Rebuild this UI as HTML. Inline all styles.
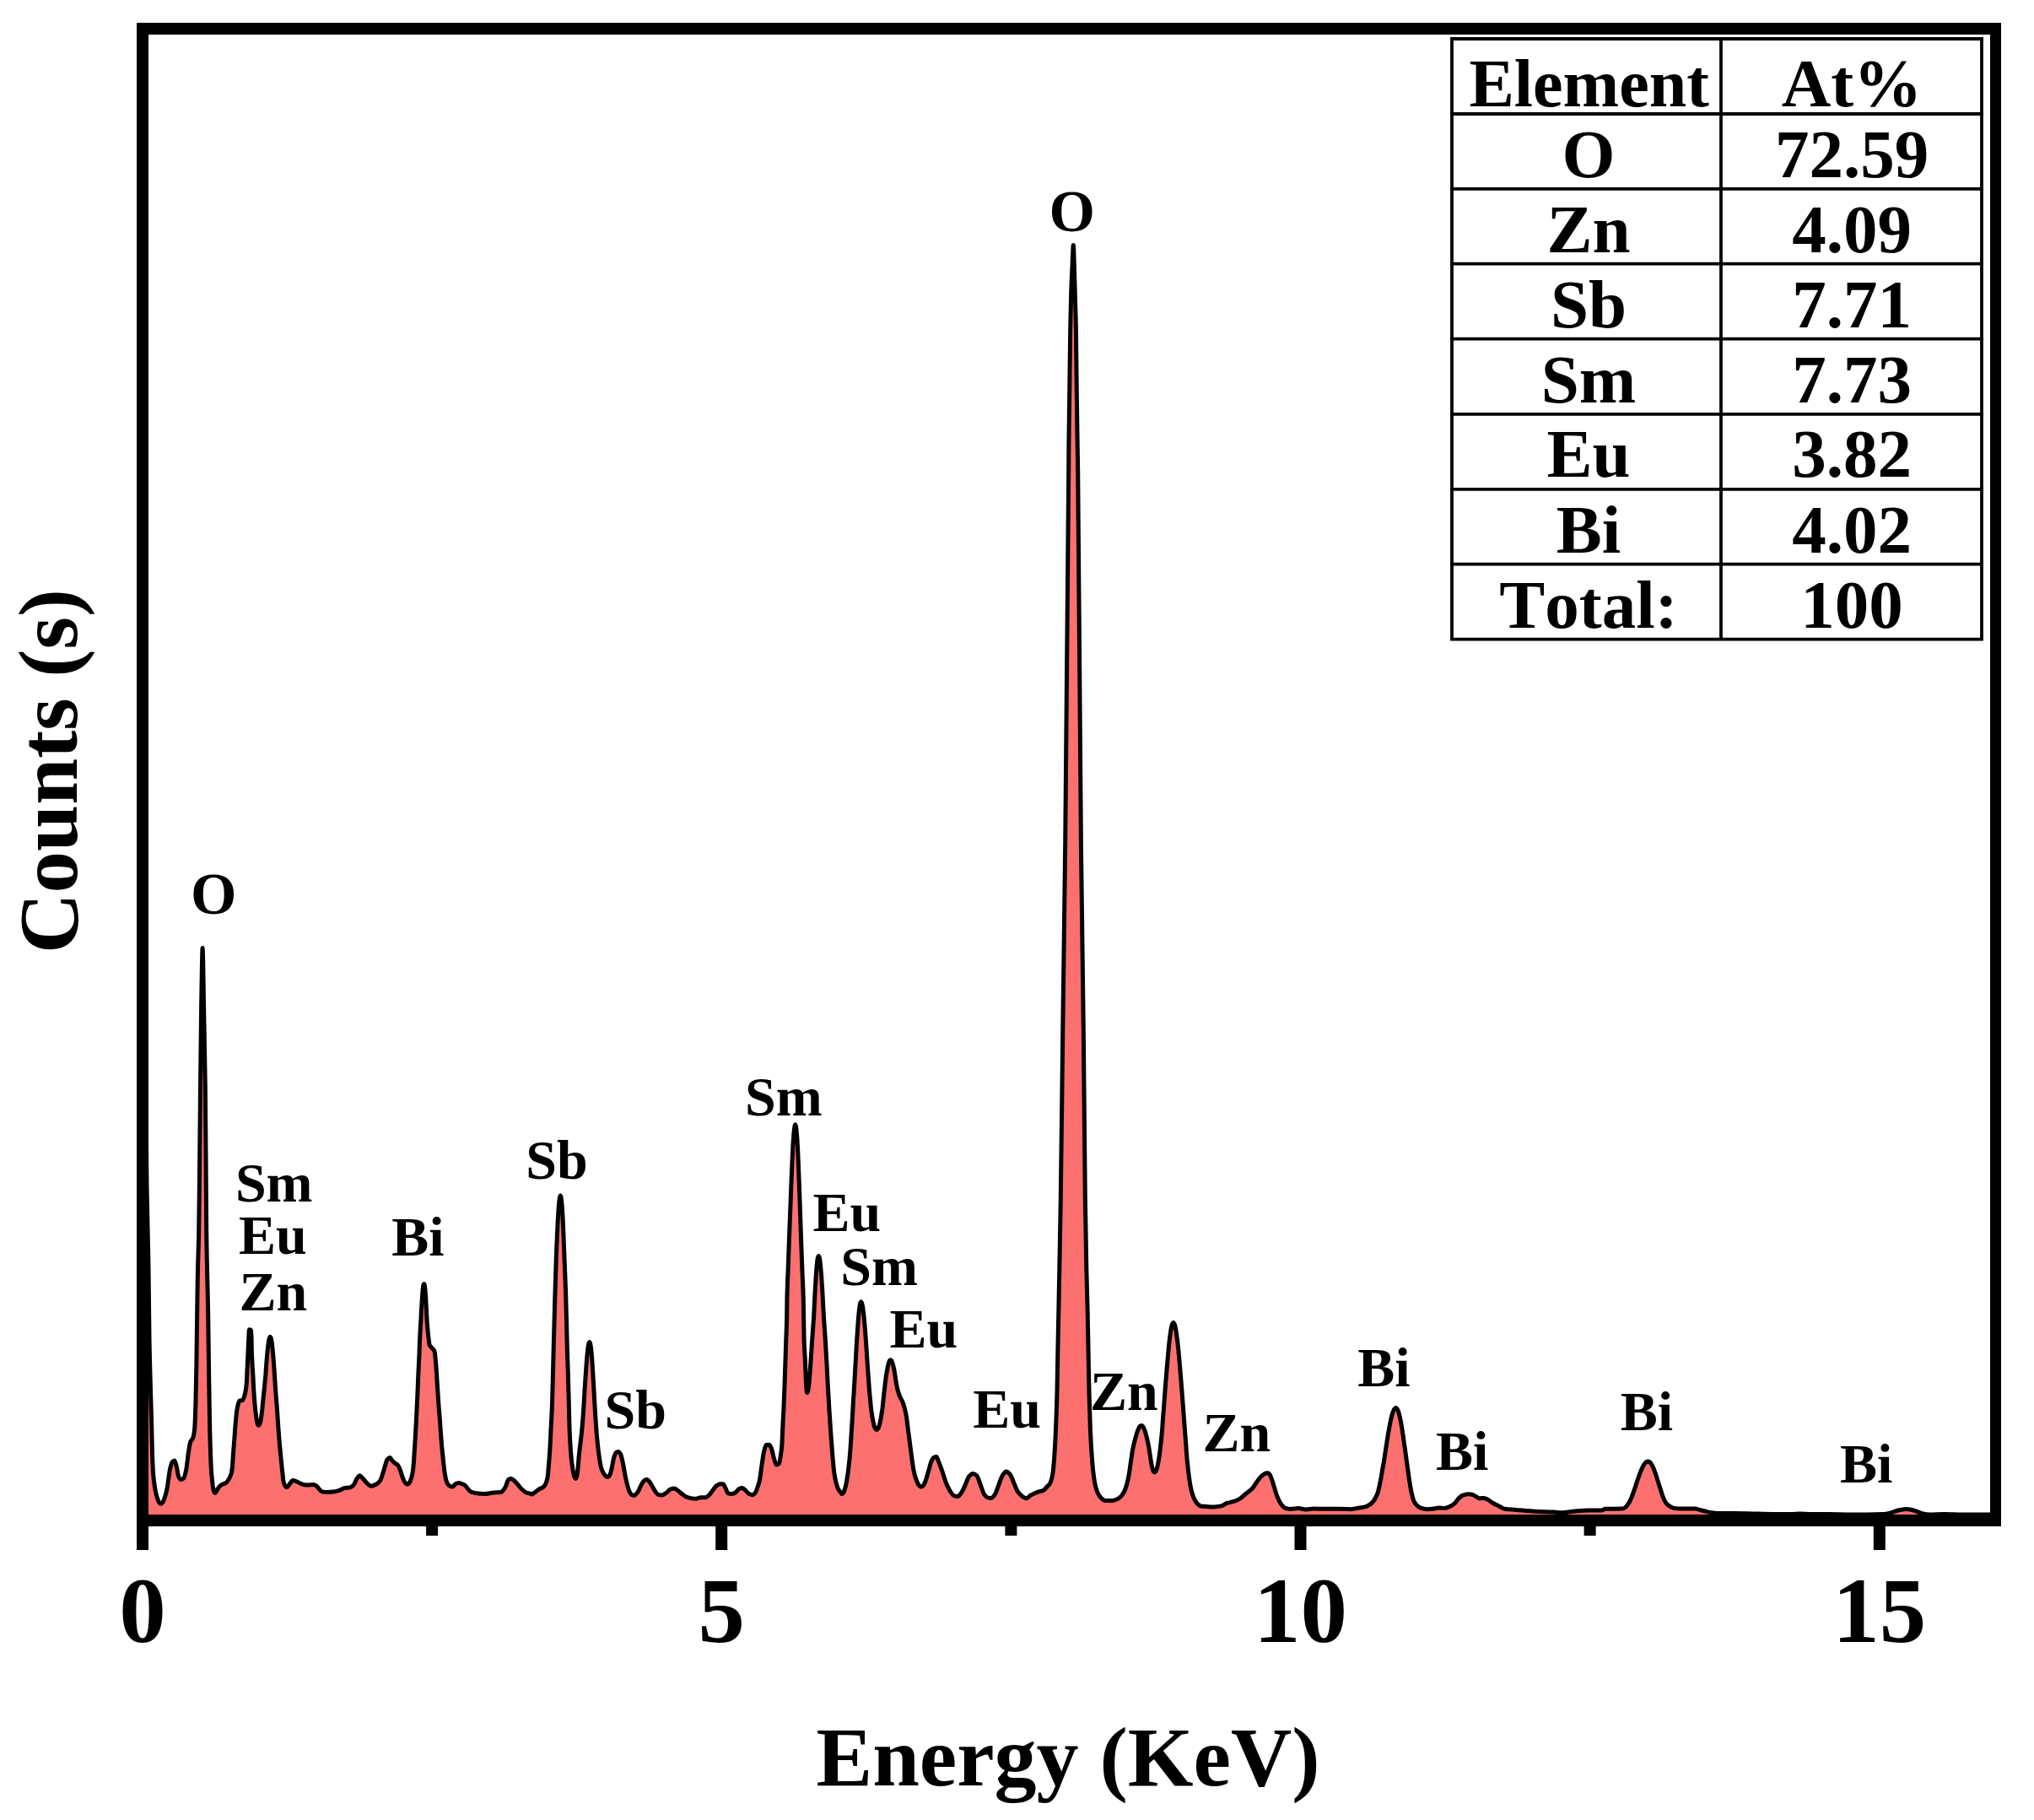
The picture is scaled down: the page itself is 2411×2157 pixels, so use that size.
<!DOCTYPE html>
<html><head><meta charset="utf-8"><title>EDS spectrum</title>
<style>html,body{margin:0;padding:0;background:#fff}svg{display:block}</style></head>
<body>
<svg width="2411" height="2157" viewBox="0 0 2411 2157">
<rect width="2411" height="2157" fill="#fff"/>
<path d="M170.0,1000.0C170.67,1065.7 171.33,1132.3 172.0,1200.0C172.67,1267.7 173.33,1363.0 174.0,1406.0C174.67,1449.0 175.33,1458.1 176.0,1500.0C176.33,1520.9 176.67,1567.2 177.0,1586.0C177.57,1617.9 178.13,1633.0 178.7,1654.0C179.03,1666.4 179.37,1676.2 179.7,1689.0C179.97,1699.3 180.23,1715.5 180.5,1723.0C180.93,1735.1 181.37,1744.1 181.8,1749.0C182.44,1756.3 183.08,1759.9 183.7,1763.7C184.03,1765.6 184.33,1766.9 184.6,1768.3C184.96,1769.8 185.28,1771.2 185.6,1772.5C185.93,1773.8 186.26,1774.9 186.6,1775.9C186.93,1777.0 187.26,1777.9 187.6,1778.7C187.96,1779.5 188.33,1780.4 188.7,1780.8C189.31,1781.5 189.94,1782.2 190.6,1782.2C191.25,1782.2 191.93,1781.5 192.6,1780.8C193.02,1780.4 193.41,1779.5 193.8,1778.7C194.18,1777.9 194.55,1777.0 194.9,1775.9C195.28,1774.9 195.64,1773.8 196.0,1772.5C196.35,1771.2 196.71,1769.8 197.1,1768.3C197.40,1766.9 197.73,1765.5 198.1,1763.7C199.34,1757.2 200.61,1744.6 201.9,1739.6C202.64,1736.6 203.39,1733.6 204.1,1732.8C205.05,1731.8 205.96,1731.0 206.9,1731.0C207.62,1731.0 208.37,1734.6 209.1,1737.3C209.96,1740.3 210.79,1747.9 211.6,1749.8C212.52,1751.8 213.43,1753.6 214.3,1753.6C215.47,1753.6 216.60,1753.0 217.7,1752.0C218.71,1751.2 219.69,1746.5 220.7,1741.9C221.58,1737.6 222.49,1727.2 223.4,1721.5C224.15,1716.7 224.90,1710.9 225.7,1709.0C226.64,1706.6 227.62,1706.9 228.6,1704.5C229.28,1702.9 229.96,1700.2 230.6,1694.3C231.09,1690.4 231.54,1675.8 232.0,1660.4C232.30,1650.1 232.60,1633.0 232.9,1615.1C233.35,1588.3 233.81,1535.7 234.3,1513.2C234.74,1489.3 235.22,1485.9 235.7,1460.0C236.00,1443.8 236.30,1408.5 236.6,1380.0C236.90,1351.5 237.20,1316.0 237.5,1288.0C237.87,1253.8 238.23,1219.7 238.6,1194.0C238.90,1173.0 239.20,1151.0 239.5,1140.0C239.70,1132.6 239.90,1123.5 240.1,1123.5C240.30,1123.5 240.50,1132.6 240.7,1140.0C241.00,1151.0 241.30,1176.7 241.6,1194.0C242.17,1226.7 242.73,1243.8 243.3,1288.0C243.57,1308.8 243.83,1347.0 244.1,1380.0C244.30,1404.8 244.50,1444.4 244.7,1460.0C245.37,1512.4 246.04,1517.7 246.7,1558.5C247.01,1576.9 247.31,1606.2 247.6,1626.4C247.99,1651.7 248.37,1679.6 248.7,1694.3C249.34,1717.5 249.93,1734.8 250.5,1743.9C250.71,1746.7 250.89,1748.3 251.1,1750.3C251.27,1752.4 251.47,1754.3 251.7,1756.0C251.86,1757.8 252.05,1759.4 252.2,1760.8C252.45,1762.3 252.65,1763.6 252.9,1764.7C253.07,1765.8 253.29,1767.0 253.5,1767.6C253.88,1768.5 254.26,1769.5 254.6,1769.5C256.29,1769.5 257.95,1763.9 259.6,1762.2C260.75,1761.1 261.88,1760.1 263.0,1759.5C264.52,1758.7 266.03,1758.6 267.5,1757.7C268.06,1757.4 268.58,1756.8 269.1,1756.2C270.73,1754.2 272.37,1752.3 274.0,1747.1C274.45,1745.7 274.90,1742.8 275.4,1738.9C275.73,1735.6 276.12,1727.6 276.5,1722.4C276.93,1716.6 277.37,1711.6 277.8,1705.9C278.20,1700.6 278.60,1694.2 279.0,1689.5C279.53,1683.2 280.07,1676.7 280.6,1673.0C281.13,1669.3 281.67,1666.6 282.2,1664.7C282.77,1662.7 283.33,1660.3 283.9,1660.1C285.17,1659.7 286.43,1659.9 287.7,1659.5C288.50,1659.2 289.30,1656.2 290.1,1653.2C290.80,1650.6 291.50,1647.3 292.2,1640.0C292.47,1637.2 292.73,1629.1 293.0,1623.6C293.27,1618.1 293.53,1612.7 293.8,1607.1C294.13,1600.1 294.47,1591.8 294.8,1585.7C295.00,1582.0 295.20,1575.8 295.4,1575.8C296.00,1575.8 296.60,1575.9 297.2,1576.1C297.50,1576.2 297.80,1579.2 298.1,1585.7C298.17,1587.1 298.23,1596.3 298.3,1598.8C298.53,1607.7 298.77,1610.7 299.0,1615.3C299.33,1621.8 299.67,1625.7 300.0,1631.8C300.27,1636.7 300.53,1644.0 300.8,1648.3C301.20,1654.8 301.61,1659.3 302.0,1663.9C302.22,1666.2 302.42,1668.3 302.6,1670.3C302.84,1672.4 303.06,1674.3 303.3,1676.1C303.50,1677.8 303.72,1679.5 303.9,1680.9C304.16,1682.3 304.39,1683.6 304.6,1684.7C304.86,1685.8 305.10,1687.0 305.3,1687.6C305.76,1688.5 306.18,1689.5 306.6,1689.5C307.04,1689.5 307.48,1688.5 307.9,1687.6C308.18,1687.0 308.43,1685.8 308.7,1684.7C308.93,1683.6 309.16,1682.3 309.4,1680.9C309.63,1679.5 309.86,1677.8 310.1,1676.1C310.32,1674.3 310.55,1672.4 310.8,1670.3C310.99,1668.3 311.21,1666.0 311.4,1663.9C311.95,1658.7 312.47,1653.6 313.0,1648.3C313.62,1642.0 314.23,1636.6 314.9,1629.0C315.04,1626.7 315.23,1623.7 315.4,1621.1C315.62,1618.4 315.82,1615.7 316.0,1613.2C316.25,1610.5 316.47,1607.8 316.7,1605.3C316.90,1603.1 317.11,1600.9 317.3,1599.0C317.54,1596.9 317.76,1594.9 318.0,1593.2C318.24,1591.4 318.48,1589.7 318.7,1588.5C318.96,1587.3 319.19,1586.1 319.4,1585.6C319.72,1585.0 320.01,1584.3 320.3,1584.3C320.58,1584.3 320.85,1585.0 321.1,1585.6C321.34,1586.1 321.56,1587.3 321.8,1588.5C322.01,1589.7 322.24,1591.4 322.5,1593.2C322.69,1594.9 322.90,1596.9 323.1,1599.0C323.31,1600.9 323.50,1603.1 323.7,1605.3C323.91,1607.8 324.12,1610.5 324.3,1613.2C324.52,1615.7 324.71,1618.4 324.9,1621.1C325.08,1623.7 325.25,1626.3 325.4,1629.0C325.85,1635.3 326.28,1642.5 326.7,1648.3C327.13,1654.3 327.57,1659.0 328.0,1664.7C328.40,1670.0 328.80,1675.5 329.2,1681.2C329.57,1686.5 329.93,1692.8 330.3,1697.7C330.77,1703.9 331.23,1709.1 331.7,1714.2C332.23,1720.1 332.77,1725.3 333.3,1730.6C333.87,1736.3 334.43,1742.3 335.0,1747.1C335.43,1750.8 335.87,1755.6 336.3,1757.0C337.40,1760.5 338.50,1762.8 339.6,1762.8C342.17,1762.8 344.73,1754.5 347.3,1754.5C349.50,1754.5 351.70,1756.1 353.9,1757.0C355.93,1757.8 357.97,1759.2 360.0,1759.5C361.63,1759.7 363.26,1760.0 364.9,1760.0C367.15,1760.0 369.42,1759.5 371.7,1759.5C372.81,1759.5 373.95,1760.4 375.1,1761.1C376.21,1761.9 377.34,1763.8 378.5,1765.0C379.61,1766.1 380.74,1767.7 381.9,1767.9C384.13,1768.3 386.40,1768.6 388.7,1768.6C390.93,1768.6 393.19,1768.2 395.5,1767.9C397.72,1767.6 399.98,1767.0 402.2,1766.3C404.51,1765.6 406.77,1763.7 409.0,1763.4C410.92,1763.1 412.81,1763.2 414.7,1762.9C416.21,1762.7 417.72,1761.5 419.2,1760.0C420.36,1758.8 421.49,1754.9 422.6,1753.2C423.90,1751.3 425.19,1748.7 426.5,1748.7C427.60,1748.7 428.73,1750.9 429.9,1752.0C431.22,1753.5 432.58,1755.3 433.9,1756.6C435.96,1758.4 437.98,1761.2 440.0,1761.2C442.20,1761.2 444.40,1760.0 446.6,1758.8C447.97,1758.0 449.34,1756.7 450.7,1754.7C451.81,1753.0 452.91,1748.9 454.0,1745.6C454.83,1743.1 455.66,1740.0 456.5,1737.3C457.31,1734.7 458.13,1731.0 459.0,1729.9C460.05,1728.6 461.15,1727.5 462.3,1727.5C463.08,1727.5 463.90,1729.8 464.7,1730.8C465.82,1732.0 466.92,1733.2 468.0,1734.1C469.12,1734.9 470.22,1735.0 471.3,1736.0C472.14,1736.8 472.97,1738.8 473.8,1740.6C474.59,1742.5 475.39,1745.3 476.2,1747.7C476.51,1748.6 476.82,1749.7 477.1,1750.6C477.46,1751.5 477.79,1752.4 478.1,1753.1C478.46,1753.9 478.79,1754.6 479.1,1755.3C479.47,1755.9 479.81,1756.5 480.2,1757.0C480.53,1757.5 480.90,1758.0 481.3,1758.3C481.91,1758.7 482.55,1759.1 483.2,1759.1C483.68,1759.1 484.18,1758.7 484.7,1758.3C484.96,1758.0 485.25,1757.5 485.5,1757.0C485.81,1756.5 486.08,1755.9 486.3,1755.3C486.61,1754.6 486.87,1753.9 487.1,1753.1C487.39,1752.4 487.64,1751.5 487.9,1750.6C488.14,1749.7 488.39,1748.9 488.6,1747.7C489.07,1745.6 489.50,1743.0 489.9,1739.0C490.33,1735.5 490.71,1728.2 491.1,1722.5C491.54,1716.0 491.98,1709.5 492.4,1701.9C492.80,1695.3 493.18,1687.2 493.6,1679.7C493.95,1672.1 494.34,1665.2 494.7,1656.6C495.05,1649.2 495.38,1639.5 495.7,1631.9C496.10,1623.0 496.48,1616.2 496.9,1607.1C497.14,1600.6 497.41,1591.5 497.7,1585.7C498.13,1576.4 498.57,1571.0 499.0,1562.6C499.15,1559.9 499.30,1556.5 499.4,1553.7C499.55,1551.7 499.65,1549.8 499.8,1548.0C499.87,1546.0 499.98,1544.1 500.1,1542.3C500.23,1540.3 500.36,1538.4 500.5,1536.6C500.60,1535.0 500.72,1533.4 500.8,1532.1C500.98,1530.5 501.11,1529.1 501.2,1527.9C501.39,1526.6 501.54,1525.4 501.7,1524.5C501.82,1523.6 501.96,1522.8 502.1,1522.4C502.28,1521.9 502.46,1521.4 502.6,1521.4C502.79,1521.4 502.95,1521.9 503.1,1522.4C503.24,1522.8 503.36,1523.6 503.5,1524.5C503.62,1525.4 503.75,1526.6 503.9,1527.9C504.00,1529.1 504.12,1530.5 504.2,1532.1C504.35,1533.4 504.46,1535.0 504.6,1536.6C504.68,1538.4 504.80,1540.3 504.9,1542.3C505.01,1544.1 505.12,1546.0 505.2,1548.0C505.31,1549.8 505.40,1551.8 505.5,1553.7C505.64,1556.7 505.79,1560.3 505.9,1562.6C506.48,1571.4 507.03,1577.6 507.6,1582.4C508.13,1587.3 508.68,1592.7 509.2,1594.0C510.33,1596.5 511.42,1596.7 512.5,1598.1C513.35,1599.1 514.17,1599.4 515.0,1601.4C515.55,1602.7 516.09,1609.4 516.6,1615.4C517.19,1621.3 517.74,1631.9 518.3,1640.1C518.84,1648.3 519.39,1657.4 519.9,1664.8C520.38,1670.8 520.82,1675.4 521.3,1681.3C521.64,1686.4 522.03,1692.7 522.4,1697.8C522.85,1703.7 523.29,1709.4 523.7,1714.3C524.28,1720.4 524.83,1725.7 525.4,1730.8C526.04,1736.8 526.70,1743.6 527.4,1747.2C528.18,1751.8 529.01,1755.5 529.8,1757.1C530.93,1759.3 532.03,1760.8 533.1,1761.2C534.23,1761.7 535.32,1762.1 536.4,1762.1C537.25,1762.1 538.07,1760.3 538.9,1759.6C539.72,1758.9 540.54,1758.2 541.4,1758.0C542.19,1757.7 543.02,1757.5 543.8,1757.5C544.94,1757.5 546.04,1758.0 547.1,1758.4C548.51,1759.0 549.88,1759.5 551.3,1760.4C552.36,1761.2 553.46,1763.3 554.6,1764.5C555.65,1765.8 556.75,1767.3 557.9,1767.8C558.56,1768.2 559.28,1768.4 560.0,1768.7C560.99,1769.0 561.99,1769.3 563.0,1769.5C566.76,1770.1 570.54,1770.6 574.3,1770.6C578.08,1770.6 581.85,1769.3 585.6,1769.0C588.27,1768.8 590.91,1768.9 593.6,1768.6C595.44,1768.4 597.33,1765.3 599.2,1762.2C600.34,1760.4 601.48,1754.4 602.6,1753.6C603.63,1753.0 604.64,1752.5 605.7,1752.5C607.55,1752.5 609.43,1754.9 611.3,1756.6C613.58,1758.6 615.85,1762.4 618.1,1764.5C620.00,1766.3 621.89,1768.3 623.8,1769.0C625.28,1769.6 626.79,1769.6 628.3,1770.2C628.87,1770.4 629.43,1771.0 630.0,1771.0C631.47,1771.0 632.93,1769.4 634.4,1768.4C635.87,1767.4 637.33,1766.0 638.8,1765.1C640.27,1764.2 641.73,1763.9 643.2,1762.9C644.07,1762.3 644.93,1761.6 645.8,1760.4C646.87,1758.9 647.93,1756.7 649.0,1751.6C649.37,1749.9 649.73,1744.8 650.1,1740.7C650.67,1734.4 651.23,1727.7 651.8,1718.7C652.17,1712.8 652.53,1704.1 652.9,1696.7C653.43,1685.9 653.97,1678.1 654.5,1663.7C654.80,1655.6 655.10,1642.4 655.4,1630.8C655.67,1620.5 655.93,1608.2 656.2,1597.8C656.50,1586.1 656.80,1575.8 657.1,1564.8C657.40,1553.8 657.70,1542.3 658.0,1531.9C658.39,1518.4 658.78,1504.6 659.2,1493.5C659.35,1488.5 659.52,1484.3 659.7,1480.0C659.88,1475.3 660.07,1470.8 660.3,1466.5C660.47,1461.8 660.68,1457.2 660.9,1453.0C661.08,1449.1 661.27,1445.5 661.5,1442.2C661.68,1438.6 661.89,1435.1 662.1,1432.3C662.34,1429.2 662.57,1426.3 662.8,1424.2C663.02,1422.2 663.24,1420.1 663.5,1419.2C663.74,1418.1 664.02,1417.0 664.3,1417.0C664.56,1417.0 664.82,1418.1 665.1,1419.2C665.29,1420.1 665.50,1422.2 665.7,1424.2C665.92,1426.3 666.14,1429.2 666.4,1432.3C666.56,1435.1 666.76,1438.6 667.0,1442.2C667.14,1445.5 667.33,1449.1 667.5,1453.0C667.70,1457.2 667.90,1461.8 668.1,1466.5C668.27,1470.8 668.45,1475.3 668.6,1480.0C668.79,1484.3 668.95,1489.1 669.1,1493.5C669.61,1506.8 670.11,1516.3 670.6,1531.9C670.88,1540.9 671.17,1553.8 671.5,1564.8C671.73,1575.8 672.02,1588.2 672.3,1597.8C672.67,1610.3 673.03,1618.7 673.4,1630.8C673.70,1640.7 674.00,1652.7 674.3,1663.7C674.60,1674.7 674.90,1689.7 675.2,1696.7C675.84,1711.5 676.47,1720.0 677.1,1726.9C677.35,1729.5 677.59,1731.3 677.8,1733.3C678.09,1735.4 678.34,1737.3 678.6,1739.1C678.85,1740.8 679.11,1742.5 679.4,1743.9C679.63,1745.3 679.90,1746.6 680.2,1747.7C680.45,1748.8 680.74,1750.0 681.0,1750.6C681.52,1751.5 682.01,1752.5 682.5,1752.5C682.83,1752.5 683.16,1751.5 683.5,1750.6C683.69,1750.0 683.88,1748.8 684.1,1747.7C684.25,1746.6 684.43,1745.3 684.6,1743.9C684.79,1742.5 684.96,1740.8 685.1,1739.1C685.31,1737.3 685.48,1735.4 685.6,1733.3C685.81,1731.3 685.97,1728.7 686.1,1726.9C687.29,1714.1 688.44,1708.7 689.6,1696.7C690.20,1690.5 690.80,1683.2 691.4,1674.7C691.74,1670.0 692.07,1663.9 692.4,1658.4C692.65,1654.5 692.89,1650.4 693.1,1646.4C693.38,1642.4 693.63,1638.3 693.9,1634.4C694.15,1630.3 694.42,1626.2 694.7,1622.4C694.93,1619.0 695.17,1615.8 695.4,1612.8C695.67,1609.6 695.93,1606.6 696.2,1604.0C696.47,1601.3 696.75,1598.7 697.0,1596.8C697.29,1595.0 697.55,1593.2 697.8,1592.4C698.14,1591.4 698.47,1590.4 698.8,1590.4C699.10,1590.4 699.39,1591.4 699.7,1592.4C699.92,1593.2 700.16,1595.0 700.4,1596.8C700.65,1598.7 700.90,1601.3 701.2,1604.0C701.39,1606.6 701.62,1609.6 701.9,1612.8C702.08,1615.8 702.29,1619.0 702.5,1622.4C702.75,1626.2 703.00,1630.3 703.2,1634.4C703.46,1638.3 703.69,1642.4 703.9,1646.4C704.13,1650.4 704.35,1654.6 704.6,1658.4C704.88,1664.0 705.19,1669.8 705.5,1674.7C706.02,1682.8 706.53,1690.6 707.0,1696.7C707.78,1705.4 708.52,1712.9 709.2,1718.7C710.35,1727.4 711.45,1735.9 712.6,1739.6C712.91,1740.9 713.26,1741.5 713.6,1742.4C713.99,1743.2 714.37,1744.1 714.7,1744.8C715.12,1745.5 715.50,1746.2 715.9,1746.8C716.27,1747.4 716.67,1748.0 717.1,1748.5C717.48,1748.9 717.90,1749.4 718.3,1749.7C719.05,1750.1 719.77,1750.5 720.5,1750.5C720.94,1750.5 721.37,1750.1 721.8,1749.7C722.07,1749.4 722.32,1748.9 722.6,1748.5C722.81,1748.0 723.05,1747.4 723.3,1746.8C723.51,1746.2 723.74,1745.5 724.0,1744.8C724.20,1744.1 724.42,1743.2 724.6,1742.4C724.86,1741.5 725.08,1740.6 725.3,1739.6C726.01,1736.3 726.74,1730.8 727.5,1728.3C728.37,1725.2 729.27,1722.1 730.2,1721.5C731.08,1720.8 731.99,1720.4 732.9,1720.4C733.88,1720.4 734.86,1722.0 735.8,1723.7C736.74,1725.4 737.65,1730.8 738.6,1735.1C739.54,1739.7 740.52,1746.4 741.5,1750.9C742.63,1756.1 743.76,1761.5 744.9,1764.5C746.03,1767.5 747.16,1770.6 748.3,1771.3C749.42,1771.9 750.55,1772.4 751.7,1772.4C753.20,1772.4 754.71,1769.9 756.2,1767.9C757.72,1765.9 759.23,1761.2 760.7,1758.8C761.87,1757.0 763.01,1754.8 764.1,1754.3C765.04,1753.9 765.95,1753.6 766.9,1753.6C768.21,1753.6 769.57,1756.0 770.9,1757.7C772.44,1759.6 773.95,1763.4 775.5,1765.6C776.97,1767.8 778.48,1770.9 780.0,1771.3C781.50,1771.7 783.01,1772.0 784.5,1772.0C786.40,1772.0 788.29,1770.3 790.2,1769.0C791.68,1768.0 793.19,1765.4 794.7,1765.0C796.21,1764.5 797.72,1764.0 799.2,1764.0C800.74,1764.0 802.25,1765.7 803.8,1766.8C805.64,1768.1 807.53,1770.0 809.4,1771.3C811.30,1772.6 813.19,1774.2 815.1,1774.7C818.10,1775.5 821.12,1776.3 824.1,1776.3C826.40,1776.3 828.66,1774.7 830.9,1774.7C832.81,1774.7 834.70,1774.7 836.6,1774.7C837.72,1774.7 838.85,1773.4 840.0,1772.4C841.49,1771.1 843.00,1768.7 844.5,1766.8C846.02,1764.9 847.53,1762.2 849.0,1761.1C850.55,1760.0 852.06,1758.8 853.6,1758.8C854.70,1758.8 855.83,1758.8 857.0,1758.8C857.94,1758.8 858.92,1761.6 859.9,1763.4C860.81,1765.0 861.72,1769.0 862.6,1769.5C864.13,1770.2 865.64,1770.6 867.1,1770.6C868.66,1770.6 870.17,1769.8 871.7,1769.0C873.19,1768.2 874.70,1765.2 876.2,1764.5C877.34,1763.9 878.47,1763.4 879.6,1763.4C880.73,1763.4 881.87,1764.7 883.0,1765.6C884.51,1766.8 886.02,1769.4 887.5,1770.2C889.03,1770.9 890.54,1771.7 892.1,1771.7C893.19,1771.7 894.32,1770.4 895.4,1769.0C896.58,1767.6 897.71,1763.3 898.8,1760.0C899.23,1758.9 899.62,1757.9 900.0,1756.4C900.90,1752.8 901.80,1744.4 902.7,1738.6C903.63,1732.5 904.57,1724.5 905.5,1720.7C906.40,1717.0 907.30,1712.7 908.2,1712.5C909.37,1712.3 910.53,1712.2 911.7,1712.2C912.60,1712.2 913.50,1714.5 914.4,1716.6C915.33,1718.7 916.27,1724.7 917.2,1727.6C918.33,1731.1 919.47,1736.1 920.6,1736.1C921.53,1736.1 922.47,1735.5 923.4,1734.5C924.07,1733.8 924.73,1729.0 925.4,1724.8C925.92,1721.5 926.43,1718.4 927.0,1711.1C927.13,1708.5 927.32,1701.5 927.5,1697.4C927.97,1687.0 928.43,1680.2 928.9,1669.9C929.27,1661.8 929.63,1652.5 930.0,1642.4C930.30,1634.1 930.60,1624.0 930.9,1614.9C931.20,1605.8 931.50,1596.6 931.8,1587.5C932.10,1578.4 932.40,1575.6 932.7,1560.0C932.77,1556.5 932.83,1544.3 932.9,1540.8C933.33,1518.3 933.77,1514.7 934.2,1502.3C934.67,1489.0 935.13,1476.2 935.6,1463.8C936.10,1450.5 936.60,1438.4 937.1,1425.4C937.30,1420.1 937.51,1414.6 937.7,1409.2C937.88,1404.7 938.05,1400.0 938.2,1395.7C938.39,1391.0 938.58,1386.5 938.8,1382.2C938.96,1377.4 939.16,1372.9 939.4,1368.7C939.55,1364.8 939.74,1361.2 939.9,1357.9C940.14,1354.3 940.34,1350.8 940.6,1348.0C940.78,1344.9 941.01,1342.0 941.2,1339.9C941.45,1337.9 941.67,1335.8 941.9,1335.0C942.16,1333.8 942.43,1332.7 942.7,1332.7C942.96,1332.7 943.22,1333.8 943.5,1335.0C943.70,1335.8 943.90,1337.9 944.1,1339.9C944.33,1342.0 944.55,1344.9 944.8,1348.0C944.97,1350.8 945.17,1354.3 945.4,1357.9C945.55,1361.2 945.73,1364.8 945.9,1368.7C946.11,1372.9 946.30,1377.4 946.5,1382.2C946.67,1386.5 946.85,1391.0 947.0,1395.7C947.18,1400.0 947.34,1404.8 947.5,1409.2C947.70,1414.7 947.90,1419.8 948.1,1425.4C948.53,1437.6 948.97,1451.5 949.4,1463.8C949.87,1477.1 950.33,1489.9 950.8,1502.3C951.30,1515.6 951.80,1522.2 952.3,1540.8C952.57,1550.7 952.83,1579.3 953.1,1587.5C953.57,1601.8 954.03,1604.0 954.5,1614.9C954.63,1617.8 954.75,1621.7 954.9,1625.0C954.96,1627.2 955.04,1629.4 955.1,1631.4C955.21,1633.5 955.29,1635.4 955.4,1637.2C955.47,1638.9 955.55,1640.6 955.6,1642.0C955.73,1643.4 955.82,1644.7 955.9,1645.8C956.01,1646.9 956.10,1648.1 956.2,1648.7C956.37,1649.6 956.53,1650.6 956.7,1650.6C957.02,1650.6 957.33,1649.6 957.6,1648.7C957.83,1648.1 958.01,1646.9 958.2,1645.8C958.37,1644.7 958.54,1643.4 958.7,1642.0C958.87,1640.6 959.04,1638.9 959.2,1637.2C959.37,1635.4 959.53,1633.5 959.7,1631.4C959.84,1629.4 960.00,1627.1 960.2,1625.0C960.40,1621.6 960.65,1618.4 960.9,1614.9C961.50,1606.4 962.10,1596.3 962.7,1587.5C963.40,1577.1 964.11,1569.9 964.8,1557.4C965.00,1554.0 965.19,1549.2 965.4,1545.2C965.59,1541.0 965.79,1536.9 966.0,1533.1C966.22,1528.8 966.45,1524.7 966.7,1520.9C966.88,1517.5 967.09,1514.1 967.3,1511.2C967.52,1507.9 967.75,1504.8 968.0,1502.3C968.22,1499.5 968.47,1496.9 968.7,1495.0C968.95,1493.2 969.18,1491.3 969.4,1490.5C969.71,1489.5 970.01,1488.5 970.3,1488.5C970.62,1488.5 970.94,1489.5 971.3,1490.5C971.51,1491.3 971.77,1493.2 972.0,1495.0C972.29,1496.9 972.56,1499.5 972.8,1502.3C973.07,1504.8 973.32,1507.9 973.6,1511.2C973.79,1514.1 974.02,1517.5 974.2,1520.9C974.49,1524.7 974.74,1528.8 975.0,1533.1C975.20,1536.9 975.43,1541.0 975.6,1545.2C975.85,1549.2 976.06,1553.8 976.3,1557.4C976.95,1569.1 977.62,1576.7 978.3,1587.5C978.83,1596.0 979.37,1605.1 979.9,1614.9C980.37,1623.5 980.83,1633.8 981.3,1642.4C981.83,1652.2 982.37,1661.3 982.9,1669.9C983.50,1679.6 984.10,1688.9 984.7,1697.4C985.40,1707.3 986.10,1716.7 986.8,1724.8C987.47,1732.5 988.13,1740.7 988.8,1745.4C989.50,1750.3 990.20,1753.7 990.9,1756.5C991.80,1760.0 992.70,1763.1 993.6,1764.8C994.67,1766.8 995.73,1767.6 996.8,1769.1C997.20,1769.7 997.61,1770.8 998.0,1770.8C998.66,1770.8 999.31,1769.9 1000.0,1768.9C1000.34,1768.4 1000.72,1767.2 1001.1,1766.0C1001.45,1765.0 1001.81,1763.6 1002.2,1762.2C1002.50,1760.8 1002.84,1759.2 1003.2,1757.4C1003.52,1755.7 1003.86,1753.7 1004.2,1751.6C1004.51,1749.7 1004.83,1747.6 1005.2,1745.2C1005.82,1740.2 1006.49,1734.3 1007.2,1727.2C1007.59,1722.7 1008.01,1717.3 1008.4,1711.2C1008.76,1706.7 1009.08,1700.6 1009.4,1695.3C1009.71,1690.0 1010.03,1684.7 1010.4,1679.4C1010.67,1674.1 1010.99,1668.7 1011.3,1663.4C1011.63,1658.1 1011.94,1652.8 1012.3,1647.5C1012.58,1642.2 1012.90,1637.0 1013.2,1631.6C1013.68,1623.7 1014.14,1615.5 1014.6,1607.3C1014.82,1603.6 1015.03,1599.6 1015.2,1595.9C1015.47,1592.0 1015.70,1588.2 1015.9,1584.6C1016.17,1580.6 1016.42,1576.7 1016.7,1573.2C1016.89,1569.9 1017.12,1566.8 1017.3,1564.1C1017.59,1561.0 1017.84,1558.1 1018.1,1555.7C1018.35,1553.1 1018.62,1550.6 1018.9,1548.9C1019.14,1547.2 1019.39,1545.4 1019.6,1544.7C1019.96,1543.7 1020.28,1542.8 1020.6,1542.8C1020.97,1542.8 1021.34,1543.7 1021.7,1544.7C1022.01,1545.4 1022.31,1547.2 1022.6,1548.9C1022.92,1550.6 1023.23,1553.1 1023.5,1555.7C1023.84,1558.1 1024.13,1561.0 1024.4,1564.1C1024.68,1566.8 1024.95,1569.9 1025.2,1573.2C1025.50,1576.7 1025.79,1580.6 1026.1,1584.6C1026.35,1588.2 1026.62,1592.0 1026.9,1595.9C1027.13,1599.6 1027.38,1603.6 1027.6,1607.3C1028.17,1615.5 1028.71,1624.2 1029.3,1631.6C1029.68,1637.3 1030.10,1642.5 1030.5,1647.5C1031.19,1655.2 1031.85,1663.4 1032.5,1669.1C1032.81,1671.6 1033.10,1673.5 1033.4,1675.5C1033.70,1677.5 1034.01,1679.5 1034.3,1681.2C1034.64,1683.0 1034.95,1684.6 1035.3,1686.0C1035.59,1687.5 1035.92,1688.8 1036.2,1689.9C1036.59,1691.0 1036.94,1692.2 1037.3,1692.7C1037.88,1693.7 1038.48,1694.7 1039.1,1694.7C1039.71,1694.7 1040.34,1693.7 1041.0,1692.7C1041.33,1692.2 1041.69,1691.0 1042.1,1689.9C1042.40,1688.8 1042.73,1687.5 1043.1,1686.0C1043.40,1684.6 1043.73,1683.0 1044.1,1681.2C1044.38,1679.5 1044.71,1677.5 1045.0,1675.5C1045.34,1673.5 1045.64,1671.4 1046.0,1669.1C1046.73,1663.0 1047.50,1654.2 1048.3,1647.5C1048.70,1643.9 1049.12,1640.5 1049.5,1637.3C1049.74,1635.7 1049.94,1634.2 1050.1,1632.8C1050.37,1631.2 1050.59,1629.7 1050.8,1628.3C1051.06,1626.7 1051.30,1625.2 1051.6,1623.8C1051.78,1622.5 1052.01,1621.3 1052.2,1620.2C1052.50,1619.0 1052.75,1617.8 1053.0,1616.9C1053.29,1615.9 1053.57,1614.9 1053.8,1614.2C1054.12,1613.5 1054.38,1612.8 1054.6,1612.5C1054.99,1612.2 1055.32,1611.8 1055.7,1611.8C1056.01,1611.8 1056.36,1612.2 1056.7,1612.5C1056.98,1612.8 1057.26,1613.5 1057.5,1614.2C1057.83,1614.9 1058.12,1615.9 1058.4,1616.9C1058.68,1617.8 1058.94,1619.0 1059.2,1620.2C1059.45,1621.3 1059.69,1622.5 1059.9,1623.8C1060.19,1625.2 1060.44,1626.7 1060.7,1628.3C1060.93,1629.7 1061.16,1631.2 1061.4,1632.8C1061.60,1634.2 1061.82,1636.0 1062.0,1637.3C1062.72,1641.4 1063.41,1644.9 1064.1,1647.5C1065.01,1650.8 1065.91,1653.3 1066.8,1655.5C1067.77,1657.7 1068.73,1658.8 1069.7,1661.0C1070.64,1663.3 1071.59,1666.1 1072.5,1669.8C1073.19,1672.3 1073.82,1675.5 1074.5,1679.4C1075.15,1683.5 1075.84,1690.0 1076.5,1695.3C1077.22,1700.6 1077.92,1705.9 1078.6,1711.2C1079.30,1716.5 1079.99,1722.2 1080.7,1727.2C1081.47,1732.9 1082.27,1739.3 1083.1,1743.1C1083.59,1745.6 1084.11,1747.4 1084.6,1749.2C1084.96,1750.4 1085.29,1751.4 1085.6,1752.4C1085.97,1753.5 1086.31,1754.5 1086.7,1755.3C1087.01,1756.2 1087.36,1757.0 1087.7,1757.7C1088.08,1758.5 1088.44,1759.1 1088.8,1759.7C1089.20,1760.2 1089.59,1760.8 1090.0,1761.1C1090.65,1761.6 1091.32,1762.1 1092.0,1762.1C1092.62,1762.1 1093.26,1761.6 1093.9,1761.1C1094.25,1760.8 1094.62,1760.2 1095.0,1759.7C1095.33,1759.1 1095.67,1758.5 1096.0,1757.7C1096.34,1757.0 1096.67,1756.2 1097.0,1755.3C1097.33,1754.5 1097.66,1753.5 1098.0,1752.4C1098.29,1751.4 1098.60,1750.3 1098.9,1749.2C1099.79,1746.1 1100.67,1742.9 1101.6,1739.9C1102.35,1737.2 1103.15,1733.6 1103.9,1732.0C1105.01,1729.7 1106.07,1727.7 1107.1,1727.2C1108.09,1726.7 1109.04,1726.4 1110.0,1726.4C1110.82,1726.4 1111.63,1729.7 1112.4,1731.7C1113.96,1735.3 1115.47,1739.8 1117.0,1744.1C1118.48,1748.5 1119.99,1754.1 1121.5,1757.7C1123.01,1761.3 1124.52,1764.4 1126.0,1766.8C1127.54,1769.1 1129.05,1771.8 1130.6,1772.4C1132.07,1773.1 1133.58,1773.6 1135.1,1773.6C1136.60,1773.6 1138.11,1771.0 1139.6,1769.0C1141.12,1767.0 1142.63,1763.2 1144.1,1760.0C1145.65,1756.8 1147.16,1751.5 1148.7,1749.8C1150.18,1748.1 1151.69,1746.4 1153.2,1746.4C1154.71,1746.4 1156.22,1747.4 1157.7,1748.7C1159.24,1749.9 1160.75,1756.2 1162.3,1760.0C1163.76,1763.7 1165.27,1769.4 1166.8,1771.3C1168.29,1773.2 1169.80,1775.0 1171.3,1775.1C1172.44,1775.3 1173.57,1775.4 1174.7,1775.4C1176.22,1775.4 1177.73,1773.3 1179.2,1771.3C1180.74,1769.3 1182.25,1763.7 1183.8,1760.0C1185.27,1756.2 1186.78,1750.8 1188.3,1748.7C1189.80,1746.5 1191.31,1744.1 1192.8,1744.1C1194.33,1744.1 1195.84,1745.8 1197.3,1747.5C1198.86,1749.2 1200.37,1754.3 1201.9,1757.7C1203.38,1761.1 1204.89,1765.8 1206.4,1767.9C1208.29,1770.5 1210.18,1772.3 1212.1,1773.6C1213.57,1774.6 1215.08,1775.8 1216.6,1775.8C1218.10,1775.8 1219.61,1773.3 1221.1,1772.4C1222.63,1771.5 1224.14,1770.8 1225.6,1770.2C1227.53,1769.3 1229.42,1768.5 1231.3,1767.9C1233.19,1767.3 1235.08,1767.2 1237.0,1766.3C1238.48,1765.6 1239.99,1763.1 1241.5,1761.5C1242.53,1760.4 1243.57,1759.9 1244.6,1758.2C1245.73,1756.3 1246.87,1752.3 1248.0,1745.7C1248.67,1741.8 1249.33,1732.5 1250.0,1722.7C1250.53,1714.9 1251.07,1704.1 1251.6,1691.4C1252.07,1680.3 1252.53,1668.6 1253.0,1649.7C1253.27,1638.9 1253.53,1617.7 1253.8,1603.7C1254.13,1586.2 1254.47,1572.4 1254.8,1555.7C1255.13,1539.0 1255.47,1521.4 1255.8,1503.5C1256.30,1476.6 1256.80,1452.3 1257.3,1420.0C1258.13,1366.1 1258.97,1284.9 1259.8,1220.0C1260.77,1144.7 1261.73,1086.0 1262.7,1000.0C1264.03,881.4 1265.37,740.2 1266.7,560.0C1266.77,551.0 1266.83,536.5 1266.9,529.2C1267.20,496.2 1267.50,483.6 1267.8,460.3C1268.10,437.0 1268.40,406.6 1268.7,389.6C1269.00,372.6 1269.30,359.4 1269.6,349.8C1270.10,333.8 1270.60,324.1 1271.1,313.5C1271.50,305.0 1271.90,290.5 1272.3,290.5C1272.63,290.5 1272.97,304.1 1273.3,313.5C1273.63,322.9 1273.97,337.7 1274.3,349.8C1274.67,363.1 1275.03,370.3 1275.4,389.6C1275.67,403.6 1275.93,439.6 1276.2,460.3C1276.53,486.2 1276.87,507.7 1277.2,529.2C1277.37,540.0 1277.53,547.5 1277.7,560.0C1278.93,652.6 1280.17,886.8 1281.4,1000.0C1282.37,1088.8 1283.33,1135.9 1284.3,1220.0C1284.97,1278.0 1285.63,1373.0 1286.3,1420.0C1286.80,1455.3 1287.30,1481.2 1287.8,1503.5C1288.27,1524.3 1288.73,1535.0 1289.2,1555.7C1289.50,1569.0 1289.80,1588.0 1290.1,1603.7C1290.40,1619.4 1290.70,1637.7 1291.0,1649.7C1291.43,1667.0 1291.87,1681.1 1292.3,1691.4C1292.87,1704.8 1293.43,1714.6 1294.0,1722.7C1294.67,1732.2 1295.33,1740.4 1296.0,1745.7C1296.93,1753.2 1297.87,1759.1 1298.8,1762.4C1300.23,1767.5 1301.67,1770.8 1303.1,1772.8C1304.97,1775.4 1306.83,1777.3 1308.7,1778.0C1309.13,1778.2 1309.57,1778.4 1310.0,1778.4C1312.97,1778.4 1315.93,1778.4 1318.9,1778.4C1320.88,1778.4 1322.85,1777.5 1324.8,1776.6C1326.32,1775.9 1327.80,1774.5 1329.3,1772.9C1330.52,1771.5 1331.75,1769.5 1333.0,1766.9C1333.98,1764.8 1334.97,1761.7 1336.0,1758.0C1336.70,1755.3 1337.44,1751.7 1338.2,1747.7C1338.92,1743.6 1339.66,1737.8 1340.4,1732.8C1341.15,1727.9 1341.89,1721.9 1342.6,1718.0C1342.99,1716.1 1343.35,1714.7 1343.7,1713.1C1344.04,1711.6 1344.37,1710.3 1344.7,1708.9C1345.05,1707.5 1345.40,1706.1 1345.8,1704.8C1346.14,1703.3 1346.52,1701.9 1346.9,1700.6C1347.26,1699.4 1347.61,1698.3 1348.0,1697.3C1348.34,1696.2 1348.73,1695.1 1349.1,1694.2C1349.53,1693.3 1349.94,1692.4 1350.4,1691.7C1350.75,1691.1 1351.14,1690.5 1351.5,1690.2C1352.03,1689.9 1352.52,1689.5 1353.0,1689.5C1353.46,1689.5 1353.90,1689.9 1354.3,1690.2C1354.70,1690.5 1355.06,1691.1 1355.4,1691.7C1355.79,1692.4 1356.16,1693.3 1356.5,1694.2C1356.89,1695.1 1357.23,1696.2 1357.6,1697.3C1357.90,1698.3 1358.22,1699.4 1358.5,1700.6C1358.88,1701.9 1359.23,1703.3 1359.6,1704.8C1359.89,1706.1 1360.21,1707.5 1360.5,1708.9C1360.83,1710.3 1361.12,1711.5 1361.4,1713.1C1362.05,1716.4 1362.68,1720.8 1363.3,1725.0C1363.54,1726.6 1363.78,1728.5 1364.0,1730.0C1364.27,1731.6 1364.51,1733.1 1364.8,1734.5C1365.02,1735.9 1365.27,1737.2 1365.5,1738.2C1365.78,1739.4 1366.04,1740.4 1366.3,1741.2C1366.58,1742.1 1366.86,1743.1 1367.1,1743.5C1367.62,1744.2 1368.11,1745.0 1368.6,1745.0C1369.11,1745.0 1369.63,1744.2 1370.1,1743.5C1370.45,1743.1 1370.75,1742.1 1371.1,1741.2C1371.33,1740.4 1371.62,1739.4 1371.9,1738.2C1372.17,1737.2 1372.44,1735.9 1372.7,1734.5C1372.98,1733.1 1373.25,1731.6 1373.5,1730.0C1373.77,1728.5 1374.03,1726.9 1374.3,1725.0C1374.86,1720.9 1375.43,1715.8 1376.0,1710.6C1376.50,1706.1 1376.99,1701.6 1377.5,1695.7C1377.83,1691.6 1378.18,1685.5 1378.5,1680.9C1378.92,1675.6 1379.32,1671.2 1379.7,1666.1C1380.29,1658.6 1380.87,1650.4 1381.4,1642.9C1381.80,1638.3 1382.15,1633.9 1382.5,1629.6C1382.87,1625.1 1383.24,1620.5 1383.6,1616.3C1384.00,1611.7 1384.39,1607.1 1384.8,1602.9C1385.14,1599.2 1385.49,1595.6 1385.8,1592.3C1386.23,1588.8 1386.62,1585.4 1387.0,1582.5C1387.41,1579.5 1387.82,1576.6 1388.2,1574.5C1388.62,1572.6 1389.00,1570.5 1389.4,1569.7C1389.87,1568.6 1390.35,1567.4 1390.8,1567.4C1391.33,1567.4 1391.83,1568.6 1392.3,1569.7C1392.72,1570.5 1393.12,1572.6 1393.5,1574.5C1393.94,1576.6 1394.36,1579.5 1394.8,1582.5C1395.18,1585.4 1395.57,1588.8 1396.0,1592.3C1396.33,1595.6 1396.69,1599.2 1397.1,1602.9C1397.46,1607.1 1397.87,1611.7 1398.3,1616.3C1398.65,1620.5 1399.03,1625.1 1399.4,1629.6C1399.77,1633.9 1400.13,1638.3 1400.5,1642.9C1401.08,1650.3 1401.67,1658.6 1402.3,1666.1C1402.65,1671.1 1403.05,1675.6 1403.4,1680.9C1403.79,1685.5 1404.14,1691.1 1404.5,1695.7C1404.88,1701.0 1405.27,1705.3 1405.7,1710.6C1406.02,1715.2 1406.36,1721.3 1406.7,1725.4C1407.20,1731.3 1407.70,1735.9 1408.2,1740.2C1408.83,1745.9 1409.48,1751.0 1410.1,1755.1C1410.86,1759.8 1411.60,1764.0 1412.3,1766.9C1413.33,1770.8 1414.32,1773.7 1415.3,1775.8C1416.55,1778.4 1417.78,1780.5 1419.0,1781.8C1420.50,1783.3 1421.98,1784.8 1423.5,1785.0C1425.64,1785.3 1427.82,1785.3 1430.0,1785.5C1432.82,1785.7 1435.64,1786.0 1438.5,1786.0C1441.48,1786.0 1444.50,1785.5 1447.5,1784.9C1449.78,1784.4 1452.04,1782.2 1454.3,1781.5C1457.33,1780.5 1460.35,1780.2 1463.4,1779.2C1465.63,1778.4 1467.89,1777.2 1470.2,1775.8C1472.42,1774.4 1474.68,1772.1 1476.9,1770.2C1479.80,1767.8 1482.64,1766.2 1485.5,1762.8C1486.14,1762.1 1486.78,1760.8 1487.4,1759.8C1488.10,1758.8 1488.77,1757.8 1489.4,1756.8C1490.16,1755.7 1490.88,1754.7 1491.6,1753.8C1492.25,1752.9 1492.90,1752.1 1493.5,1751.4C1494.24,1750.6 1494.94,1749.8 1495.6,1749.1C1496.39,1748.4 1497.14,1747.8 1497.9,1747.3C1498.59,1746.9 1499.30,1746.4 1500.0,1746.2C1500.88,1746.0 1501.76,1745.7 1502.6,1745.7C1503.04,1745.7 1503.45,1746.0 1503.9,1746.2C1504.17,1746.4 1504.50,1746.9 1504.8,1747.3C1505.16,1747.8 1505.51,1748.4 1505.9,1749.1C1506.17,1749.8 1506.49,1750.6 1506.8,1751.4C1507.11,1752.1 1507.41,1752.9 1507.7,1753.8C1508.04,1754.7 1508.37,1755.7 1508.7,1756.8C1509.01,1757.8 1509.31,1758.8 1509.6,1759.8C1509.92,1760.8 1510.21,1761.9 1510.5,1762.8C1511.66,1766.6 1512.81,1770.7 1514.0,1773.6C1515.47,1777.3 1516.98,1780.6 1518.5,1782.6C1520.00,1784.6 1521.51,1786.6 1523.0,1787.1C1525.28,1787.9 1527.54,1788.5 1529.8,1788.5C1532.83,1788.5 1535.84,1787.6 1538.9,1787.6C1541.88,1787.6 1544.90,1789.0 1547.9,1789.0C1550.94,1789.0 1553.96,1788.0 1557.0,1788.0C1561.50,1788.0 1566.03,1788.3 1570.6,1788.3C1575.09,1788.3 1579.62,1788.3 1584.1,1788.3C1588.67,1788.3 1593.20,1788.4 1597.7,1788.5C1598.48,1788.5 1599.24,1788.7 1600.0,1788.7C1603.11,1788.7 1606.23,1787.9 1609.3,1787.4C1612.45,1786.9 1615.56,1786.6 1618.7,1785.7C1620.23,1785.3 1621.79,1784.4 1623.3,1783.4C1624.90,1782.4 1626.46,1781.0 1628.0,1779.1C1628.95,1778.0 1629.88,1776.3 1630.8,1774.5C1631.60,1772.9 1632.37,1771.2 1633.2,1768.9C1633.78,1767.0 1634.40,1764.2 1635.0,1761.4C1635.64,1758.6 1636.27,1755.4 1636.9,1752.1C1637.42,1749.2 1637.95,1745.8 1638.5,1742.7C1639.04,1739.5 1639.60,1736.7 1640.2,1733.4C1640.86,1729.2 1641.56,1724.1 1642.3,1719.6C1642.73,1716.5 1643.20,1713.5 1643.7,1710.6C1644.15,1707.5 1644.63,1704.4 1645.1,1701.5C1645.63,1698.4 1646.15,1695.4 1646.7,1692.5C1647.14,1690.0 1647.61,1687.5 1648.1,1685.3C1648.58,1682.9 1649.08,1680.6 1649.6,1678.7C1650.13,1676.7 1650.67,1674.7 1651.2,1673.3C1651.71,1672.0 1652.22,1670.6 1652.7,1670.0C1653.36,1669.2 1654.00,1668.5 1654.6,1668.5C1655.20,1668.5 1655.77,1669.2 1656.3,1670.0C1656.79,1670.6 1657.24,1672.0 1657.7,1673.3C1658.18,1674.7 1658.66,1676.7 1659.1,1678.7C1659.60,1680.6 1660.05,1682.9 1660.5,1685.3C1660.92,1687.5 1661.34,1690.0 1661.8,1692.5C1662.22,1695.4 1662.68,1698.4 1663.2,1701.5C1663.58,1704.4 1664.02,1707.5 1664.4,1710.6C1664.87,1713.5 1665.28,1716.6 1665.7,1719.6C1666.34,1724.2 1666.98,1728.8 1667.6,1733.4C1668.05,1736.5 1668.48,1739.6 1668.9,1742.7C1669.36,1745.8 1669.79,1749.2 1670.2,1752.1C1670.73,1755.4 1671.22,1758.6 1671.7,1761.4C1672.31,1764.8 1672.90,1768.2 1673.5,1770.7C1674.21,1773.8 1674.93,1776.6 1675.6,1778.2C1676.58,1780.4 1677.51,1781.8 1678.4,1782.9C1679.69,1784.3 1680.94,1785.5 1682.2,1786.2C1683.74,1787.0 1685.29,1787.7 1686.9,1788.0C1688.41,1788.3 1689.96,1788.7 1691.5,1788.7C1693.70,1788.7 1695.88,1788.5 1698.1,1788.3C1700.55,1788.1 1703.04,1787.1 1705.5,1787.1C1707.71,1787.1 1709.89,1787.6 1712.1,1787.6C1714.71,1787.6 1717.36,1786.0 1720.0,1784.8C1721.51,1784.0 1723.01,1782.9 1724.5,1781.5C1726.02,1780.1 1727.53,1777.2 1729.0,1775.8C1730.55,1774.4 1732.06,1773.0 1733.6,1772.4C1735.83,1771.6 1738.09,1770.8 1740.4,1770.8C1741.87,1770.8 1743.38,1771.0 1744.9,1771.3C1746.39,1771.5 1747.90,1772.8 1749.4,1773.6C1750.92,1774.3 1752.43,1775.8 1753.9,1775.8C1755.45,1775.8 1756.96,1775.4 1758.5,1775.4C1759.98,1775.4 1761.49,1776.3 1763.0,1777.0C1765.26,1778.0 1767.53,1780.2 1769.8,1781.5C1772.05,1782.8 1774.32,1783.7 1776.6,1784.9C1778.85,1786.0 1781.11,1787.9 1783.4,1788.3C1787.90,1789.0 1792.43,1789.0 1797.0,1789.4C1804.50,1790.0 1812.05,1790.8 1819.6,1791.2C1827.14,1791.6 1834.69,1791.7 1842.2,1792.1C1845.26,1792.3 1848.27,1792.8 1851.3,1792.8C1855.82,1792.8 1860.35,1791.6 1864.9,1791.2C1870.91,1790.7 1876.95,1789.9 1883.0,1789.9C1888.27,1789.9 1893.55,1789.9 1898.8,1789.9C1899.22,1789.9 1899.61,1789.6 1900.0,1789.5C1900.81,1789.2 1901.61,1788.3 1902.4,1788.3C1909.27,1788.2 1916.12,1788.3 1923.0,1788.1C1924.18,1788.1 1925.39,1787.3 1926.6,1786.5C1927.81,1785.7 1929.02,1784.0 1930.2,1782.2C1931.24,1780.7 1932.25,1778.4 1933.3,1776.2C1934.06,1774.4 1934.86,1772.3 1935.7,1770.1C1936.38,1768.2 1937.08,1766.2 1937.8,1764.1C1938.47,1762.1 1939.15,1759.9 1939.8,1757.8C1940.35,1756.2 1940.87,1754.7 1941.4,1753.2C1941.92,1751.7 1942.45,1750.1 1943.0,1748.7C1943.56,1747.1 1944.13,1745.5 1944.7,1744.1C1945.22,1742.8 1945.74,1741.6 1946.3,1740.4C1946.81,1739.2 1947.37,1738.1 1947.9,1737.1C1948.53,1736.1 1949.12,1735.1 1949.7,1734.4C1950.28,1733.7 1950.84,1733.0 1951.4,1732.7C1952.10,1732.3 1952.81,1731.9 1953.5,1731.9C1954.14,1731.9 1954.78,1732.3 1955.4,1732.7C1955.93,1733.0 1956.44,1733.7 1957.0,1734.4C1957.50,1735.1 1958.04,1736.1 1958.6,1737.1C1959.09,1738.1 1959.60,1739.2 1960.1,1740.4C1960.57,1741.6 1961.04,1742.8 1961.5,1744.1C1962.04,1745.5 1962.56,1747.1 1963.1,1748.7C1963.57,1750.1 1964.05,1751.7 1964.5,1753.2C1965.01,1754.7 1965.48,1756.3 1965.9,1757.8C1966.94,1761.0 1967.93,1764.1 1968.9,1767.1C1969.53,1769.0 1970.13,1770.9 1970.7,1772.6C1971.44,1774.5 1972.15,1776.6 1972.9,1778.0C1973.76,1779.8 1974.67,1781.2 1975.6,1782.2C1976.78,1783.6 1977.99,1784.6 1979.2,1785.2C1980.61,1786.1 1982.02,1786.7 1983.4,1787.1C1984.84,1787.4 1986.26,1787.7 1987.7,1787.8C1990.69,1787.9 1993.71,1788.0 1996.7,1788.0C2001.17,1788.0 2005.60,1788.0 2010.0,1788.0C2011.25,1788.0 2012.45,1788.8 2013.7,1789.2C2015.78,1789.8 2017.90,1790.1 2020.0,1790.7C2020.63,1790.9 2021.26,1791.1 2021.9,1791.2C2024.14,1791.8 2026.41,1792.5 2028.7,1792.8C2031.69,1793.2 2034.71,1793.5 2037.7,1793.5C2043.76,1793.5 2049.80,1793.5 2055.8,1793.5C2063.39,1793.5 2070.93,1793.8 2078.5,1793.9C2086.03,1794.1 2093.57,1794.4 2101.1,1794.4C2108.67,1794.4 2116.21,1794.4 2123.8,1794.4C2126.78,1794.4 2129.80,1793.9 2132.8,1793.9C2137.34,1793.9 2141.87,1794.6 2146.4,1794.6C2153.94,1794.6 2161.49,1794.6 2169.0,1794.6C2176.58,1794.6 2184.13,1795.1 2191.7,1795.1C2199.22,1795.1 2206.77,1795.1 2214.3,1795.1C2220.35,1795.1 2226.39,1794.9 2232.4,1794.6C2235.45,1794.5 2238.47,1793.6 2241.5,1792.8C2243.75,1792.2 2246.01,1791.2 2248.3,1790.5C2250.54,1789.9 2252.81,1789.3 2255.1,1789.0C2256.58,1788.7 2258.09,1788.5 2259.6,1788.5C2261.11,1788.5 2262.62,1788.7 2264.1,1789.0C2266.39,1789.3 2268.65,1790.2 2270.9,1791.0C2273.18,1791.7 2275.44,1792.9 2277.7,1793.5C2280.73,1794.2 2283.75,1795.1 2286.8,1795.1C2292.80,1795.1 2298.84,1794.4 2304.9,1794.4C2312.42,1794.4 2319.97,1795.1 2327.5,1795.1C2338.08,1795.1 2348.65,1795.1 2359.2,1795.1C2361.47,1795.1 2363.74,1795.0 2366.0,1795.0L2366.0,1802L170,1802Z" fill="#FC7070"/>
<path d="M170.0,1000.0C170.67,1065.7 171.33,1132.3 172.0,1200.0C172.67,1267.7 173.33,1363.0 174.0,1406.0C174.67,1449.0 175.33,1458.1 176.0,1500.0C176.33,1520.9 176.67,1567.2 177.0,1586.0C177.57,1617.9 178.13,1633.0 178.7,1654.0C179.03,1666.4 179.37,1676.2 179.7,1689.0C179.97,1699.3 180.23,1715.5 180.5,1723.0C180.93,1735.1 181.37,1744.1 181.8,1749.0C182.44,1756.3 183.08,1759.9 183.7,1763.7C184.03,1765.6 184.33,1766.9 184.6,1768.3C184.96,1769.8 185.28,1771.2 185.6,1772.5C185.93,1773.8 186.26,1774.9 186.6,1775.9C186.93,1777.0 187.26,1777.9 187.6,1778.7C187.96,1779.5 188.33,1780.4 188.7,1780.8C189.31,1781.5 189.94,1782.2 190.6,1782.2C191.25,1782.2 191.93,1781.5 192.6,1780.8C193.02,1780.4 193.41,1779.5 193.8,1778.7C194.18,1777.9 194.55,1777.0 194.9,1775.9C195.28,1774.9 195.64,1773.8 196.0,1772.5C196.35,1771.2 196.71,1769.8 197.1,1768.3C197.40,1766.9 197.73,1765.5 198.1,1763.7C199.34,1757.2 200.61,1744.6 201.9,1739.6C202.64,1736.6 203.39,1733.6 204.1,1732.8C205.05,1731.8 205.96,1731.0 206.9,1731.0C207.62,1731.0 208.37,1734.6 209.1,1737.3C209.96,1740.3 210.79,1747.9 211.6,1749.8C212.52,1751.8 213.43,1753.6 214.3,1753.6C215.47,1753.6 216.60,1753.0 217.7,1752.0C218.71,1751.2 219.69,1746.5 220.7,1741.9C221.58,1737.6 222.49,1727.2 223.4,1721.5C224.15,1716.7 224.90,1710.9 225.7,1709.0C226.64,1706.6 227.62,1706.9 228.6,1704.5C229.28,1702.9 229.96,1700.2 230.6,1694.3C231.09,1690.4 231.54,1675.8 232.0,1660.4C232.30,1650.1 232.60,1633.0 232.9,1615.1C233.35,1588.3 233.81,1535.7 234.3,1513.2C234.74,1489.3 235.22,1485.9 235.7,1460.0C236.00,1443.8 236.30,1408.5 236.6,1380.0C236.90,1351.5 237.20,1316.0 237.5,1288.0C237.87,1253.8 238.23,1219.7 238.6,1194.0C238.90,1173.0 239.20,1151.0 239.5,1140.0C239.70,1132.6 239.90,1123.5 240.1,1123.5C240.30,1123.5 240.50,1132.6 240.7,1140.0C241.00,1151.0 241.30,1176.7 241.6,1194.0C242.17,1226.7 242.73,1243.8 243.3,1288.0C243.57,1308.8 243.83,1347.0 244.1,1380.0C244.30,1404.8 244.50,1444.4 244.7,1460.0C245.37,1512.4 246.04,1517.7 246.7,1558.5C247.01,1576.9 247.31,1606.2 247.6,1626.4C247.99,1651.7 248.37,1679.6 248.7,1694.3C249.34,1717.5 249.93,1734.8 250.5,1743.9C250.71,1746.7 250.89,1748.3 251.1,1750.3C251.27,1752.4 251.47,1754.3 251.7,1756.0C251.86,1757.8 252.05,1759.4 252.2,1760.8C252.45,1762.3 252.65,1763.6 252.9,1764.7C253.07,1765.8 253.29,1767.0 253.5,1767.6C253.88,1768.5 254.26,1769.5 254.6,1769.5C256.29,1769.5 257.95,1763.9 259.6,1762.2C260.75,1761.1 261.88,1760.1 263.0,1759.5C264.52,1758.7 266.03,1758.6 267.5,1757.7C268.06,1757.4 268.58,1756.8 269.1,1756.2C270.73,1754.2 272.37,1752.3 274.0,1747.1C274.45,1745.7 274.90,1742.8 275.4,1738.9C275.73,1735.6 276.12,1727.6 276.5,1722.4C276.93,1716.6 277.37,1711.6 277.8,1705.9C278.20,1700.6 278.60,1694.2 279.0,1689.5C279.53,1683.2 280.07,1676.7 280.6,1673.0C281.13,1669.3 281.67,1666.6 282.2,1664.7C282.77,1662.7 283.33,1660.3 283.9,1660.1C285.17,1659.7 286.43,1659.9 287.7,1659.5C288.50,1659.2 289.30,1656.2 290.1,1653.2C290.80,1650.6 291.50,1647.3 292.2,1640.0C292.47,1637.2 292.73,1629.1 293.0,1623.6C293.27,1618.1 293.53,1612.7 293.8,1607.1C294.13,1600.1 294.47,1591.8 294.8,1585.7C295.00,1582.0 295.20,1575.8 295.4,1575.8C296.00,1575.8 296.60,1575.9 297.2,1576.1C297.50,1576.2 297.80,1579.2 298.1,1585.7C298.17,1587.1 298.23,1596.3 298.3,1598.8C298.53,1607.7 298.77,1610.7 299.0,1615.3C299.33,1621.8 299.67,1625.7 300.0,1631.8C300.27,1636.7 300.53,1644.0 300.8,1648.3C301.20,1654.8 301.61,1659.3 302.0,1663.9C302.22,1666.2 302.42,1668.3 302.6,1670.3C302.84,1672.4 303.06,1674.3 303.3,1676.1C303.50,1677.8 303.72,1679.5 303.9,1680.9C304.16,1682.3 304.39,1683.6 304.6,1684.7C304.86,1685.8 305.10,1687.0 305.3,1687.6C305.76,1688.5 306.18,1689.5 306.6,1689.5C307.04,1689.5 307.48,1688.5 307.9,1687.6C308.18,1687.0 308.43,1685.8 308.7,1684.7C308.93,1683.6 309.16,1682.3 309.4,1680.9C309.63,1679.5 309.86,1677.8 310.1,1676.1C310.32,1674.3 310.55,1672.4 310.8,1670.3C310.99,1668.3 311.21,1666.0 311.4,1663.9C311.95,1658.7 312.47,1653.6 313.0,1648.3C313.62,1642.0 314.23,1636.6 314.9,1629.0C315.04,1626.7 315.23,1623.7 315.4,1621.1C315.62,1618.4 315.82,1615.7 316.0,1613.2C316.25,1610.5 316.47,1607.8 316.7,1605.3C316.90,1603.1 317.11,1600.9 317.3,1599.0C317.54,1596.9 317.76,1594.9 318.0,1593.2C318.24,1591.4 318.48,1589.7 318.7,1588.5C318.96,1587.3 319.19,1586.1 319.4,1585.6C319.72,1585.0 320.01,1584.3 320.3,1584.3C320.58,1584.3 320.85,1585.0 321.1,1585.6C321.34,1586.1 321.56,1587.3 321.8,1588.5C322.01,1589.7 322.24,1591.4 322.5,1593.2C322.69,1594.9 322.90,1596.9 323.1,1599.0C323.31,1600.9 323.50,1603.1 323.7,1605.3C323.91,1607.8 324.12,1610.5 324.3,1613.2C324.52,1615.7 324.71,1618.4 324.9,1621.1C325.08,1623.7 325.25,1626.3 325.4,1629.0C325.85,1635.3 326.28,1642.5 326.7,1648.3C327.13,1654.3 327.57,1659.0 328.0,1664.7C328.40,1670.0 328.80,1675.5 329.2,1681.2C329.57,1686.5 329.93,1692.8 330.3,1697.7C330.77,1703.9 331.23,1709.1 331.7,1714.2C332.23,1720.1 332.77,1725.3 333.3,1730.6C333.87,1736.3 334.43,1742.3 335.0,1747.1C335.43,1750.8 335.87,1755.6 336.3,1757.0C337.40,1760.5 338.50,1762.8 339.6,1762.8C342.17,1762.8 344.73,1754.5 347.3,1754.5C349.50,1754.5 351.70,1756.1 353.9,1757.0C355.93,1757.8 357.97,1759.2 360.0,1759.5C361.63,1759.7 363.26,1760.0 364.9,1760.0C367.15,1760.0 369.42,1759.5 371.7,1759.5C372.81,1759.5 373.95,1760.4 375.1,1761.1C376.21,1761.9 377.34,1763.8 378.5,1765.0C379.61,1766.1 380.74,1767.7 381.9,1767.9C384.13,1768.3 386.40,1768.6 388.7,1768.6C390.93,1768.6 393.19,1768.2 395.5,1767.9C397.72,1767.6 399.98,1767.0 402.2,1766.3C404.51,1765.6 406.77,1763.7 409.0,1763.4C410.92,1763.1 412.81,1763.2 414.7,1762.9C416.21,1762.7 417.72,1761.5 419.2,1760.0C420.36,1758.8 421.49,1754.9 422.6,1753.2C423.90,1751.3 425.19,1748.7 426.5,1748.7C427.60,1748.7 428.73,1750.9 429.9,1752.0C431.22,1753.5 432.58,1755.3 433.9,1756.6C435.96,1758.4 437.98,1761.2 440.0,1761.2C442.20,1761.2 444.40,1760.0 446.6,1758.8C447.97,1758.0 449.34,1756.7 450.7,1754.7C451.81,1753.0 452.91,1748.9 454.0,1745.6C454.83,1743.1 455.66,1740.0 456.5,1737.3C457.31,1734.7 458.13,1731.0 459.0,1729.9C460.05,1728.6 461.15,1727.5 462.3,1727.5C463.08,1727.5 463.90,1729.8 464.7,1730.8C465.82,1732.0 466.92,1733.2 468.0,1734.1C469.12,1734.9 470.22,1735.0 471.3,1736.0C472.14,1736.8 472.97,1738.8 473.8,1740.6C474.59,1742.5 475.39,1745.3 476.2,1747.7C476.51,1748.6 476.82,1749.7 477.1,1750.6C477.46,1751.5 477.79,1752.4 478.1,1753.1C478.46,1753.9 478.79,1754.6 479.1,1755.3C479.47,1755.9 479.81,1756.5 480.2,1757.0C480.53,1757.5 480.90,1758.0 481.3,1758.3C481.91,1758.7 482.55,1759.1 483.2,1759.1C483.68,1759.1 484.18,1758.7 484.7,1758.3C484.96,1758.0 485.25,1757.5 485.5,1757.0C485.81,1756.5 486.08,1755.9 486.3,1755.3C486.61,1754.6 486.87,1753.9 487.1,1753.1C487.39,1752.4 487.64,1751.5 487.9,1750.6C488.14,1749.7 488.39,1748.9 488.6,1747.7C489.07,1745.6 489.50,1743.0 489.9,1739.0C490.33,1735.5 490.71,1728.2 491.1,1722.5C491.54,1716.0 491.98,1709.5 492.4,1701.9C492.80,1695.3 493.18,1687.2 493.6,1679.7C493.95,1672.1 494.34,1665.2 494.7,1656.6C495.05,1649.2 495.38,1639.5 495.7,1631.9C496.10,1623.0 496.48,1616.2 496.9,1607.1C497.14,1600.6 497.41,1591.5 497.7,1585.7C498.13,1576.4 498.57,1571.0 499.0,1562.6C499.15,1559.9 499.30,1556.5 499.4,1553.7C499.55,1551.7 499.65,1549.8 499.8,1548.0C499.87,1546.0 499.98,1544.1 500.1,1542.3C500.23,1540.3 500.36,1538.4 500.5,1536.6C500.60,1535.0 500.72,1533.4 500.8,1532.1C500.98,1530.5 501.11,1529.1 501.2,1527.9C501.39,1526.6 501.54,1525.4 501.7,1524.5C501.82,1523.6 501.96,1522.8 502.1,1522.4C502.28,1521.9 502.46,1521.4 502.6,1521.4C502.79,1521.4 502.95,1521.9 503.1,1522.4C503.24,1522.8 503.36,1523.6 503.5,1524.5C503.62,1525.4 503.75,1526.6 503.9,1527.9C504.00,1529.1 504.12,1530.5 504.2,1532.1C504.35,1533.4 504.46,1535.0 504.6,1536.6C504.68,1538.4 504.80,1540.3 504.9,1542.3C505.01,1544.1 505.12,1546.0 505.2,1548.0C505.31,1549.8 505.40,1551.8 505.5,1553.7C505.64,1556.7 505.79,1560.3 505.9,1562.6C506.48,1571.4 507.03,1577.6 507.6,1582.4C508.13,1587.3 508.68,1592.7 509.2,1594.0C510.33,1596.5 511.42,1596.7 512.5,1598.1C513.35,1599.1 514.17,1599.4 515.0,1601.4C515.55,1602.7 516.09,1609.4 516.6,1615.4C517.19,1621.3 517.74,1631.9 518.3,1640.1C518.84,1648.3 519.39,1657.4 519.9,1664.8C520.38,1670.8 520.82,1675.4 521.3,1681.3C521.64,1686.4 522.03,1692.7 522.4,1697.8C522.85,1703.7 523.29,1709.4 523.7,1714.3C524.28,1720.4 524.83,1725.7 525.4,1730.8C526.04,1736.8 526.70,1743.6 527.4,1747.2C528.18,1751.8 529.01,1755.5 529.8,1757.1C530.93,1759.3 532.03,1760.8 533.1,1761.2C534.23,1761.7 535.32,1762.1 536.4,1762.1C537.25,1762.1 538.07,1760.3 538.9,1759.6C539.72,1758.9 540.54,1758.2 541.4,1758.0C542.19,1757.7 543.02,1757.5 543.8,1757.5C544.94,1757.5 546.04,1758.0 547.1,1758.4C548.51,1759.0 549.88,1759.5 551.3,1760.4C552.36,1761.2 553.46,1763.3 554.6,1764.5C555.65,1765.8 556.75,1767.3 557.9,1767.8C558.56,1768.2 559.28,1768.4 560.0,1768.7C560.99,1769.0 561.99,1769.3 563.0,1769.5C566.76,1770.1 570.54,1770.6 574.3,1770.6C578.08,1770.6 581.85,1769.3 585.6,1769.0C588.27,1768.8 590.91,1768.9 593.6,1768.6C595.44,1768.4 597.33,1765.3 599.2,1762.2C600.34,1760.4 601.48,1754.4 602.6,1753.6C603.63,1753.0 604.64,1752.5 605.7,1752.5C607.55,1752.5 609.43,1754.9 611.3,1756.6C613.58,1758.6 615.85,1762.4 618.1,1764.5C620.00,1766.3 621.89,1768.3 623.8,1769.0C625.28,1769.6 626.79,1769.6 628.3,1770.2C628.87,1770.4 629.43,1771.0 630.0,1771.0C631.47,1771.0 632.93,1769.4 634.4,1768.4C635.87,1767.4 637.33,1766.0 638.8,1765.1C640.27,1764.2 641.73,1763.9 643.2,1762.9C644.07,1762.3 644.93,1761.6 645.8,1760.4C646.87,1758.9 647.93,1756.7 649.0,1751.6C649.37,1749.9 649.73,1744.8 650.1,1740.7C650.67,1734.4 651.23,1727.7 651.8,1718.7C652.17,1712.8 652.53,1704.1 652.9,1696.7C653.43,1685.9 653.97,1678.1 654.5,1663.7C654.80,1655.6 655.10,1642.4 655.4,1630.8C655.67,1620.5 655.93,1608.2 656.2,1597.8C656.50,1586.1 656.80,1575.8 657.1,1564.8C657.40,1553.8 657.70,1542.3 658.0,1531.9C658.39,1518.4 658.78,1504.6 659.2,1493.5C659.35,1488.5 659.52,1484.3 659.7,1480.0C659.88,1475.3 660.07,1470.8 660.3,1466.5C660.47,1461.8 660.68,1457.2 660.9,1453.0C661.08,1449.1 661.27,1445.5 661.5,1442.2C661.68,1438.6 661.89,1435.1 662.1,1432.3C662.34,1429.2 662.57,1426.3 662.8,1424.2C663.02,1422.2 663.24,1420.1 663.5,1419.2C663.74,1418.1 664.02,1417.0 664.3,1417.0C664.56,1417.0 664.82,1418.1 665.1,1419.2C665.29,1420.1 665.50,1422.2 665.7,1424.2C665.92,1426.3 666.14,1429.2 666.4,1432.3C666.56,1435.1 666.76,1438.6 667.0,1442.2C667.14,1445.5 667.33,1449.1 667.5,1453.0C667.70,1457.2 667.90,1461.8 668.1,1466.5C668.27,1470.8 668.45,1475.3 668.6,1480.0C668.79,1484.3 668.95,1489.1 669.1,1493.5C669.61,1506.8 670.11,1516.3 670.6,1531.9C670.88,1540.9 671.17,1553.8 671.5,1564.8C671.73,1575.8 672.02,1588.2 672.3,1597.8C672.67,1610.3 673.03,1618.7 673.4,1630.8C673.70,1640.7 674.00,1652.7 674.3,1663.7C674.60,1674.7 674.90,1689.7 675.2,1696.7C675.84,1711.5 676.47,1720.0 677.1,1726.9C677.35,1729.5 677.59,1731.3 677.8,1733.3C678.09,1735.4 678.34,1737.3 678.6,1739.1C678.85,1740.8 679.11,1742.5 679.4,1743.9C679.63,1745.3 679.90,1746.6 680.2,1747.7C680.45,1748.8 680.74,1750.0 681.0,1750.6C681.52,1751.5 682.01,1752.5 682.5,1752.5C682.83,1752.5 683.16,1751.5 683.5,1750.6C683.69,1750.0 683.88,1748.8 684.1,1747.7C684.25,1746.6 684.43,1745.3 684.6,1743.9C684.79,1742.5 684.96,1740.8 685.1,1739.1C685.31,1737.3 685.48,1735.4 685.6,1733.3C685.81,1731.3 685.97,1728.7 686.1,1726.9C687.29,1714.1 688.44,1708.7 689.6,1696.7C690.20,1690.5 690.80,1683.2 691.4,1674.7C691.74,1670.0 692.07,1663.9 692.4,1658.4C692.65,1654.5 692.89,1650.4 693.1,1646.4C693.38,1642.4 693.63,1638.3 693.9,1634.4C694.15,1630.3 694.42,1626.2 694.7,1622.4C694.93,1619.0 695.17,1615.8 695.4,1612.8C695.67,1609.6 695.93,1606.6 696.2,1604.0C696.47,1601.3 696.75,1598.7 697.0,1596.8C697.29,1595.0 697.55,1593.2 697.8,1592.4C698.14,1591.4 698.47,1590.4 698.8,1590.4C699.10,1590.4 699.39,1591.4 699.7,1592.4C699.92,1593.2 700.16,1595.0 700.4,1596.8C700.65,1598.7 700.90,1601.3 701.2,1604.0C701.39,1606.6 701.62,1609.6 701.9,1612.8C702.08,1615.8 702.29,1619.0 702.5,1622.4C702.75,1626.2 703.00,1630.3 703.2,1634.4C703.46,1638.3 703.69,1642.4 703.9,1646.4C704.13,1650.4 704.35,1654.6 704.6,1658.4C704.88,1664.0 705.19,1669.8 705.5,1674.7C706.02,1682.8 706.53,1690.6 707.0,1696.7C707.78,1705.4 708.52,1712.9 709.2,1718.7C710.35,1727.4 711.45,1735.9 712.6,1739.6C712.91,1740.9 713.26,1741.5 713.6,1742.4C713.99,1743.2 714.37,1744.1 714.7,1744.8C715.12,1745.5 715.50,1746.2 715.9,1746.8C716.27,1747.4 716.67,1748.0 717.1,1748.5C717.48,1748.9 717.90,1749.4 718.3,1749.7C719.05,1750.1 719.77,1750.5 720.5,1750.5C720.94,1750.5 721.37,1750.1 721.8,1749.7C722.07,1749.4 722.32,1748.9 722.6,1748.5C722.81,1748.0 723.05,1747.4 723.3,1746.8C723.51,1746.2 723.74,1745.5 724.0,1744.8C724.20,1744.1 724.42,1743.2 724.6,1742.4C724.86,1741.5 725.08,1740.6 725.3,1739.6C726.01,1736.3 726.74,1730.8 727.5,1728.3C728.37,1725.2 729.27,1722.1 730.2,1721.5C731.08,1720.8 731.99,1720.4 732.9,1720.4C733.88,1720.4 734.86,1722.0 735.8,1723.7C736.74,1725.4 737.65,1730.8 738.6,1735.1C739.54,1739.7 740.52,1746.4 741.5,1750.9C742.63,1756.1 743.76,1761.5 744.9,1764.5C746.03,1767.5 747.16,1770.6 748.3,1771.3C749.42,1771.9 750.55,1772.4 751.7,1772.4C753.20,1772.4 754.71,1769.9 756.2,1767.9C757.72,1765.9 759.23,1761.2 760.7,1758.8C761.87,1757.0 763.01,1754.8 764.1,1754.3C765.04,1753.9 765.95,1753.6 766.9,1753.6C768.21,1753.6 769.57,1756.0 770.9,1757.7C772.44,1759.6 773.95,1763.4 775.5,1765.6C776.97,1767.8 778.48,1770.9 780.0,1771.3C781.50,1771.7 783.01,1772.0 784.5,1772.0C786.40,1772.0 788.29,1770.3 790.2,1769.0C791.68,1768.0 793.19,1765.4 794.7,1765.0C796.21,1764.5 797.72,1764.0 799.2,1764.0C800.74,1764.0 802.25,1765.7 803.8,1766.8C805.64,1768.1 807.53,1770.0 809.4,1771.3C811.30,1772.6 813.19,1774.2 815.1,1774.7C818.10,1775.5 821.12,1776.3 824.1,1776.3C826.40,1776.3 828.66,1774.7 830.9,1774.7C832.81,1774.7 834.70,1774.7 836.6,1774.7C837.72,1774.7 838.85,1773.4 840.0,1772.4C841.49,1771.1 843.00,1768.7 844.5,1766.8C846.02,1764.9 847.53,1762.2 849.0,1761.1C850.55,1760.0 852.06,1758.8 853.6,1758.8C854.70,1758.8 855.83,1758.8 857.0,1758.8C857.94,1758.8 858.92,1761.6 859.9,1763.4C860.81,1765.0 861.72,1769.0 862.6,1769.5C864.13,1770.2 865.64,1770.6 867.1,1770.6C868.66,1770.6 870.17,1769.8 871.7,1769.0C873.19,1768.2 874.70,1765.2 876.2,1764.5C877.34,1763.9 878.47,1763.4 879.6,1763.4C880.73,1763.4 881.87,1764.7 883.0,1765.6C884.51,1766.8 886.02,1769.4 887.5,1770.2C889.03,1770.9 890.54,1771.7 892.1,1771.7C893.19,1771.7 894.32,1770.4 895.4,1769.0C896.58,1767.6 897.71,1763.3 898.8,1760.0C899.23,1758.9 899.62,1757.9 900.0,1756.4C900.90,1752.8 901.80,1744.4 902.7,1738.6C903.63,1732.5 904.57,1724.5 905.5,1720.7C906.40,1717.0 907.30,1712.7 908.2,1712.5C909.37,1712.3 910.53,1712.2 911.7,1712.2C912.60,1712.2 913.50,1714.5 914.4,1716.6C915.33,1718.7 916.27,1724.7 917.2,1727.6C918.33,1731.1 919.47,1736.1 920.6,1736.1C921.53,1736.1 922.47,1735.5 923.4,1734.5C924.07,1733.8 924.73,1729.0 925.4,1724.8C925.92,1721.5 926.43,1718.4 927.0,1711.1C927.13,1708.5 927.32,1701.5 927.5,1697.4C927.97,1687.0 928.43,1680.2 928.9,1669.9C929.27,1661.8 929.63,1652.5 930.0,1642.4C930.30,1634.1 930.60,1624.0 930.9,1614.9C931.20,1605.8 931.50,1596.6 931.8,1587.5C932.10,1578.4 932.40,1575.6 932.7,1560.0C932.77,1556.5 932.83,1544.3 932.9,1540.8C933.33,1518.3 933.77,1514.7 934.2,1502.3C934.67,1489.0 935.13,1476.2 935.6,1463.8C936.10,1450.5 936.60,1438.4 937.1,1425.4C937.30,1420.1 937.51,1414.6 937.7,1409.2C937.88,1404.7 938.05,1400.0 938.2,1395.7C938.39,1391.0 938.58,1386.5 938.8,1382.2C938.96,1377.4 939.16,1372.9 939.4,1368.7C939.55,1364.8 939.74,1361.2 939.9,1357.9C940.14,1354.3 940.34,1350.8 940.6,1348.0C940.78,1344.9 941.01,1342.0 941.2,1339.9C941.45,1337.9 941.67,1335.8 941.9,1335.0C942.16,1333.8 942.43,1332.7 942.7,1332.7C942.96,1332.7 943.22,1333.8 943.5,1335.0C943.70,1335.8 943.90,1337.9 944.1,1339.9C944.33,1342.0 944.55,1344.9 944.8,1348.0C944.97,1350.8 945.17,1354.3 945.4,1357.9C945.55,1361.2 945.73,1364.8 945.9,1368.7C946.11,1372.9 946.30,1377.4 946.5,1382.2C946.67,1386.5 946.85,1391.0 947.0,1395.7C947.18,1400.0 947.34,1404.8 947.5,1409.2C947.70,1414.7 947.90,1419.8 948.1,1425.4C948.53,1437.6 948.97,1451.5 949.4,1463.8C949.87,1477.1 950.33,1489.9 950.8,1502.3C951.30,1515.6 951.80,1522.2 952.3,1540.8C952.57,1550.7 952.83,1579.3 953.1,1587.5C953.57,1601.8 954.03,1604.0 954.5,1614.9C954.63,1617.8 954.75,1621.7 954.9,1625.0C954.96,1627.2 955.04,1629.4 955.1,1631.4C955.21,1633.5 955.29,1635.4 955.4,1637.2C955.47,1638.9 955.55,1640.6 955.6,1642.0C955.73,1643.4 955.82,1644.7 955.9,1645.8C956.01,1646.9 956.10,1648.1 956.2,1648.7C956.37,1649.6 956.53,1650.6 956.7,1650.6C957.02,1650.6 957.33,1649.6 957.6,1648.7C957.83,1648.1 958.01,1646.9 958.2,1645.8C958.37,1644.7 958.54,1643.4 958.7,1642.0C958.87,1640.6 959.04,1638.9 959.2,1637.2C959.37,1635.4 959.53,1633.5 959.7,1631.4C959.84,1629.4 960.00,1627.1 960.2,1625.0C960.40,1621.6 960.65,1618.4 960.9,1614.9C961.50,1606.4 962.10,1596.3 962.7,1587.5C963.40,1577.1 964.11,1569.9 964.8,1557.4C965.00,1554.0 965.19,1549.2 965.4,1545.2C965.59,1541.0 965.79,1536.9 966.0,1533.1C966.22,1528.8 966.45,1524.7 966.7,1520.9C966.88,1517.5 967.09,1514.1 967.3,1511.2C967.52,1507.9 967.75,1504.8 968.0,1502.3C968.22,1499.5 968.47,1496.9 968.7,1495.0C968.95,1493.2 969.18,1491.3 969.4,1490.5C969.71,1489.5 970.01,1488.5 970.3,1488.5C970.62,1488.5 970.94,1489.5 971.3,1490.5C971.51,1491.3 971.77,1493.2 972.0,1495.0C972.29,1496.9 972.56,1499.5 972.8,1502.3C973.07,1504.8 973.32,1507.9 973.6,1511.2C973.79,1514.1 974.02,1517.5 974.2,1520.9C974.49,1524.7 974.74,1528.8 975.0,1533.1C975.20,1536.9 975.43,1541.0 975.6,1545.2C975.85,1549.2 976.06,1553.8 976.3,1557.4C976.95,1569.1 977.62,1576.7 978.3,1587.5C978.83,1596.0 979.37,1605.1 979.9,1614.9C980.37,1623.5 980.83,1633.8 981.3,1642.4C981.83,1652.2 982.37,1661.3 982.9,1669.9C983.50,1679.6 984.10,1688.9 984.7,1697.4C985.40,1707.3 986.10,1716.7 986.8,1724.8C987.47,1732.5 988.13,1740.7 988.8,1745.4C989.50,1750.3 990.20,1753.7 990.9,1756.5C991.80,1760.0 992.70,1763.1 993.6,1764.8C994.67,1766.8 995.73,1767.6 996.8,1769.1C997.20,1769.7 997.61,1770.8 998.0,1770.8C998.66,1770.8 999.31,1769.9 1000.0,1768.9C1000.34,1768.4 1000.72,1767.2 1001.1,1766.0C1001.45,1765.0 1001.81,1763.6 1002.2,1762.2C1002.50,1760.8 1002.84,1759.2 1003.2,1757.4C1003.52,1755.7 1003.86,1753.7 1004.2,1751.6C1004.51,1749.7 1004.83,1747.6 1005.2,1745.2C1005.82,1740.2 1006.49,1734.3 1007.2,1727.2C1007.59,1722.7 1008.01,1717.3 1008.4,1711.2C1008.76,1706.7 1009.08,1700.6 1009.4,1695.3C1009.71,1690.0 1010.03,1684.7 1010.4,1679.4C1010.67,1674.1 1010.99,1668.7 1011.3,1663.4C1011.63,1658.1 1011.94,1652.8 1012.3,1647.5C1012.58,1642.2 1012.90,1637.0 1013.2,1631.6C1013.68,1623.7 1014.14,1615.5 1014.6,1607.3C1014.82,1603.6 1015.03,1599.6 1015.2,1595.9C1015.47,1592.0 1015.70,1588.2 1015.9,1584.6C1016.17,1580.6 1016.42,1576.7 1016.7,1573.2C1016.89,1569.9 1017.12,1566.8 1017.3,1564.1C1017.59,1561.0 1017.84,1558.1 1018.1,1555.7C1018.35,1553.1 1018.62,1550.6 1018.9,1548.9C1019.14,1547.2 1019.39,1545.4 1019.6,1544.7C1019.96,1543.7 1020.28,1542.8 1020.6,1542.8C1020.97,1542.8 1021.34,1543.7 1021.7,1544.7C1022.01,1545.4 1022.31,1547.2 1022.6,1548.9C1022.92,1550.6 1023.23,1553.1 1023.5,1555.7C1023.84,1558.1 1024.13,1561.0 1024.4,1564.1C1024.68,1566.8 1024.95,1569.9 1025.2,1573.2C1025.50,1576.7 1025.79,1580.6 1026.1,1584.6C1026.35,1588.2 1026.62,1592.0 1026.9,1595.9C1027.13,1599.6 1027.38,1603.6 1027.6,1607.3C1028.17,1615.5 1028.71,1624.2 1029.3,1631.6C1029.68,1637.3 1030.10,1642.5 1030.5,1647.5C1031.19,1655.2 1031.85,1663.4 1032.5,1669.1C1032.81,1671.6 1033.10,1673.5 1033.4,1675.5C1033.70,1677.5 1034.01,1679.5 1034.3,1681.2C1034.64,1683.0 1034.95,1684.6 1035.3,1686.0C1035.59,1687.5 1035.92,1688.8 1036.2,1689.9C1036.59,1691.0 1036.94,1692.2 1037.3,1692.7C1037.88,1693.7 1038.48,1694.7 1039.1,1694.7C1039.71,1694.7 1040.34,1693.7 1041.0,1692.7C1041.33,1692.2 1041.69,1691.0 1042.1,1689.9C1042.40,1688.8 1042.73,1687.5 1043.1,1686.0C1043.40,1684.6 1043.73,1683.0 1044.1,1681.2C1044.38,1679.5 1044.71,1677.5 1045.0,1675.5C1045.34,1673.5 1045.64,1671.4 1046.0,1669.1C1046.73,1663.0 1047.50,1654.2 1048.3,1647.5C1048.70,1643.9 1049.12,1640.5 1049.5,1637.3C1049.74,1635.7 1049.94,1634.2 1050.1,1632.8C1050.37,1631.2 1050.59,1629.7 1050.8,1628.3C1051.06,1626.7 1051.30,1625.2 1051.6,1623.8C1051.78,1622.5 1052.01,1621.3 1052.2,1620.2C1052.50,1619.0 1052.75,1617.8 1053.0,1616.9C1053.29,1615.9 1053.57,1614.9 1053.8,1614.2C1054.12,1613.5 1054.38,1612.8 1054.6,1612.5C1054.99,1612.2 1055.32,1611.8 1055.7,1611.8C1056.01,1611.8 1056.36,1612.2 1056.7,1612.5C1056.98,1612.8 1057.26,1613.5 1057.5,1614.2C1057.83,1614.9 1058.12,1615.9 1058.4,1616.9C1058.68,1617.8 1058.94,1619.0 1059.2,1620.2C1059.45,1621.3 1059.69,1622.5 1059.9,1623.8C1060.19,1625.2 1060.44,1626.7 1060.7,1628.3C1060.93,1629.7 1061.16,1631.2 1061.4,1632.8C1061.60,1634.2 1061.82,1636.0 1062.0,1637.3C1062.72,1641.4 1063.41,1644.9 1064.1,1647.5C1065.01,1650.8 1065.91,1653.3 1066.8,1655.5C1067.77,1657.7 1068.73,1658.8 1069.7,1661.0C1070.64,1663.3 1071.59,1666.1 1072.5,1669.8C1073.19,1672.3 1073.82,1675.5 1074.5,1679.4C1075.15,1683.5 1075.84,1690.0 1076.5,1695.3C1077.22,1700.6 1077.92,1705.9 1078.6,1711.2C1079.30,1716.5 1079.99,1722.2 1080.7,1727.2C1081.47,1732.9 1082.27,1739.3 1083.1,1743.1C1083.59,1745.6 1084.11,1747.4 1084.6,1749.2C1084.96,1750.4 1085.29,1751.4 1085.6,1752.4C1085.97,1753.5 1086.31,1754.5 1086.7,1755.3C1087.01,1756.2 1087.36,1757.0 1087.7,1757.7C1088.08,1758.5 1088.44,1759.1 1088.8,1759.7C1089.20,1760.2 1089.59,1760.8 1090.0,1761.1C1090.65,1761.6 1091.32,1762.1 1092.0,1762.1C1092.62,1762.1 1093.26,1761.6 1093.9,1761.1C1094.25,1760.8 1094.62,1760.2 1095.0,1759.7C1095.33,1759.1 1095.67,1758.5 1096.0,1757.7C1096.34,1757.0 1096.67,1756.2 1097.0,1755.3C1097.33,1754.5 1097.66,1753.5 1098.0,1752.4C1098.29,1751.4 1098.60,1750.3 1098.9,1749.2C1099.79,1746.1 1100.67,1742.9 1101.6,1739.9C1102.35,1737.2 1103.15,1733.6 1103.9,1732.0C1105.01,1729.7 1106.07,1727.7 1107.1,1727.2C1108.09,1726.7 1109.04,1726.4 1110.0,1726.4C1110.82,1726.4 1111.63,1729.7 1112.4,1731.7C1113.96,1735.3 1115.47,1739.8 1117.0,1744.1C1118.48,1748.5 1119.99,1754.1 1121.5,1757.7C1123.01,1761.3 1124.52,1764.4 1126.0,1766.8C1127.54,1769.1 1129.05,1771.8 1130.6,1772.4C1132.07,1773.1 1133.58,1773.6 1135.1,1773.6C1136.60,1773.6 1138.11,1771.0 1139.6,1769.0C1141.12,1767.0 1142.63,1763.2 1144.1,1760.0C1145.65,1756.8 1147.16,1751.5 1148.7,1749.8C1150.18,1748.1 1151.69,1746.4 1153.2,1746.4C1154.71,1746.4 1156.22,1747.4 1157.7,1748.7C1159.24,1749.9 1160.75,1756.2 1162.3,1760.0C1163.76,1763.7 1165.27,1769.4 1166.8,1771.3C1168.29,1773.2 1169.80,1775.0 1171.3,1775.1C1172.44,1775.3 1173.57,1775.4 1174.7,1775.4C1176.22,1775.4 1177.73,1773.3 1179.2,1771.3C1180.74,1769.3 1182.25,1763.7 1183.8,1760.0C1185.27,1756.2 1186.78,1750.8 1188.3,1748.7C1189.80,1746.5 1191.31,1744.1 1192.8,1744.1C1194.33,1744.1 1195.84,1745.8 1197.3,1747.5C1198.86,1749.2 1200.37,1754.3 1201.9,1757.7C1203.38,1761.1 1204.89,1765.8 1206.4,1767.9C1208.29,1770.5 1210.18,1772.3 1212.1,1773.6C1213.57,1774.6 1215.08,1775.8 1216.6,1775.8C1218.10,1775.8 1219.61,1773.3 1221.1,1772.4C1222.63,1771.5 1224.14,1770.8 1225.6,1770.2C1227.53,1769.3 1229.42,1768.5 1231.3,1767.9C1233.19,1767.3 1235.08,1767.2 1237.0,1766.3C1238.48,1765.6 1239.99,1763.1 1241.5,1761.5C1242.53,1760.4 1243.57,1759.9 1244.6,1758.2C1245.73,1756.3 1246.87,1752.3 1248.0,1745.7C1248.67,1741.8 1249.33,1732.5 1250.0,1722.7C1250.53,1714.9 1251.07,1704.1 1251.6,1691.4C1252.07,1680.3 1252.53,1668.6 1253.0,1649.7C1253.27,1638.9 1253.53,1617.7 1253.8,1603.7C1254.13,1586.2 1254.47,1572.4 1254.8,1555.7C1255.13,1539.0 1255.47,1521.4 1255.8,1503.5C1256.30,1476.6 1256.80,1452.3 1257.3,1420.0C1258.13,1366.1 1258.97,1284.9 1259.8,1220.0C1260.77,1144.7 1261.73,1086.0 1262.7,1000.0C1264.03,881.4 1265.37,740.2 1266.7,560.0C1266.77,551.0 1266.83,536.5 1266.9,529.2C1267.20,496.2 1267.50,483.6 1267.8,460.3C1268.10,437.0 1268.40,406.6 1268.7,389.6C1269.00,372.6 1269.30,359.4 1269.6,349.8C1270.10,333.8 1270.60,324.1 1271.1,313.5C1271.50,305.0 1271.90,290.5 1272.3,290.5C1272.63,290.5 1272.97,304.1 1273.3,313.5C1273.63,322.9 1273.97,337.7 1274.3,349.8C1274.67,363.1 1275.03,370.3 1275.4,389.6C1275.67,403.6 1275.93,439.6 1276.2,460.3C1276.53,486.2 1276.87,507.7 1277.2,529.2C1277.37,540.0 1277.53,547.5 1277.7,560.0C1278.93,652.6 1280.17,886.8 1281.4,1000.0C1282.37,1088.8 1283.33,1135.9 1284.3,1220.0C1284.97,1278.0 1285.63,1373.0 1286.3,1420.0C1286.80,1455.3 1287.30,1481.2 1287.8,1503.5C1288.27,1524.3 1288.73,1535.0 1289.2,1555.7C1289.50,1569.0 1289.80,1588.0 1290.1,1603.7C1290.40,1619.4 1290.70,1637.7 1291.0,1649.7C1291.43,1667.0 1291.87,1681.1 1292.3,1691.4C1292.87,1704.8 1293.43,1714.6 1294.0,1722.7C1294.67,1732.2 1295.33,1740.4 1296.0,1745.7C1296.93,1753.2 1297.87,1759.1 1298.8,1762.4C1300.23,1767.5 1301.67,1770.8 1303.1,1772.8C1304.97,1775.4 1306.83,1777.3 1308.7,1778.0C1309.13,1778.2 1309.57,1778.4 1310.0,1778.4C1312.97,1778.4 1315.93,1778.4 1318.9,1778.4C1320.88,1778.4 1322.85,1777.5 1324.8,1776.6C1326.32,1775.9 1327.80,1774.5 1329.3,1772.9C1330.52,1771.5 1331.75,1769.5 1333.0,1766.9C1333.98,1764.8 1334.97,1761.7 1336.0,1758.0C1336.70,1755.3 1337.44,1751.7 1338.2,1747.7C1338.92,1743.6 1339.66,1737.8 1340.4,1732.8C1341.15,1727.9 1341.89,1721.9 1342.6,1718.0C1342.99,1716.1 1343.35,1714.7 1343.7,1713.1C1344.04,1711.6 1344.37,1710.3 1344.7,1708.9C1345.05,1707.5 1345.40,1706.1 1345.8,1704.8C1346.14,1703.3 1346.52,1701.9 1346.9,1700.6C1347.26,1699.4 1347.61,1698.3 1348.0,1697.3C1348.34,1696.2 1348.73,1695.1 1349.1,1694.2C1349.53,1693.3 1349.94,1692.4 1350.4,1691.7C1350.75,1691.1 1351.14,1690.5 1351.5,1690.2C1352.03,1689.9 1352.52,1689.5 1353.0,1689.5C1353.46,1689.5 1353.90,1689.9 1354.3,1690.2C1354.70,1690.5 1355.06,1691.1 1355.4,1691.7C1355.79,1692.4 1356.16,1693.3 1356.5,1694.2C1356.89,1695.1 1357.23,1696.2 1357.6,1697.3C1357.90,1698.3 1358.22,1699.4 1358.5,1700.6C1358.88,1701.9 1359.23,1703.3 1359.6,1704.8C1359.89,1706.1 1360.21,1707.5 1360.5,1708.9C1360.83,1710.3 1361.12,1711.5 1361.4,1713.1C1362.05,1716.4 1362.68,1720.8 1363.3,1725.0C1363.54,1726.6 1363.78,1728.5 1364.0,1730.0C1364.27,1731.6 1364.51,1733.1 1364.8,1734.5C1365.02,1735.9 1365.27,1737.2 1365.5,1738.2C1365.78,1739.4 1366.04,1740.4 1366.3,1741.2C1366.58,1742.1 1366.86,1743.1 1367.1,1743.5C1367.62,1744.2 1368.11,1745.0 1368.6,1745.0C1369.11,1745.0 1369.63,1744.2 1370.1,1743.5C1370.45,1743.1 1370.75,1742.1 1371.1,1741.2C1371.33,1740.4 1371.62,1739.4 1371.9,1738.2C1372.17,1737.2 1372.44,1735.9 1372.7,1734.5C1372.98,1733.1 1373.25,1731.6 1373.5,1730.0C1373.77,1728.5 1374.03,1726.9 1374.3,1725.0C1374.86,1720.9 1375.43,1715.8 1376.0,1710.6C1376.50,1706.1 1376.99,1701.6 1377.5,1695.7C1377.83,1691.6 1378.18,1685.5 1378.5,1680.9C1378.92,1675.6 1379.32,1671.2 1379.7,1666.1C1380.29,1658.6 1380.87,1650.4 1381.4,1642.9C1381.80,1638.3 1382.15,1633.9 1382.5,1629.6C1382.87,1625.1 1383.24,1620.5 1383.6,1616.3C1384.00,1611.7 1384.39,1607.1 1384.8,1602.9C1385.14,1599.2 1385.49,1595.6 1385.8,1592.3C1386.23,1588.8 1386.62,1585.4 1387.0,1582.5C1387.41,1579.5 1387.82,1576.6 1388.2,1574.5C1388.62,1572.6 1389.00,1570.5 1389.4,1569.7C1389.87,1568.6 1390.35,1567.4 1390.8,1567.4C1391.33,1567.4 1391.83,1568.6 1392.3,1569.7C1392.72,1570.5 1393.12,1572.6 1393.5,1574.5C1393.94,1576.6 1394.36,1579.5 1394.8,1582.5C1395.18,1585.4 1395.57,1588.8 1396.0,1592.3C1396.33,1595.6 1396.69,1599.2 1397.1,1602.9C1397.46,1607.1 1397.87,1611.7 1398.3,1616.3C1398.65,1620.5 1399.03,1625.1 1399.4,1629.6C1399.77,1633.9 1400.13,1638.3 1400.5,1642.9C1401.08,1650.3 1401.67,1658.6 1402.3,1666.1C1402.65,1671.1 1403.05,1675.6 1403.4,1680.9C1403.79,1685.5 1404.14,1691.1 1404.5,1695.7C1404.88,1701.0 1405.27,1705.3 1405.7,1710.6C1406.02,1715.2 1406.36,1721.3 1406.7,1725.4C1407.20,1731.3 1407.70,1735.9 1408.2,1740.2C1408.83,1745.9 1409.48,1751.0 1410.1,1755.1C1410.86,1759.8 1411.60,1764.0 1412.3,1766.9C1413.33,1770.8 1414.32,1773.7 1415.3,1775.8C1416.55,1778.4 1417.78,1780.5 1419.0,1781.8C1420.50,1783.3 1421.98,1784.8 1423.5,1785.0C1425.64,1785.3 1427.82,1785.3 1430.0,1785.5C1432.82,1785.7 1435.64,1786.0 1438.5,1786.0C1441.48,1786.0 1444.50,1785.5 1447.5,1784.9C1449.78,1784.4 1452.04,1782.2 1454.3,1781.5C1457.33,1780.5 1460.35,1780.2 1463.4,1779.2C1465.63,1778.4 1467.89,1777.2 1470.2,1775.8C1472.42,1774.4 1474.68,1772.1 1476.9,1770.2C1479.80,1767.8 1482.64,1766.2 1485.5,1762.8C1486.14,1762.1 1486.78,1760.8 1487.4,1759.8C1488.10,1758.8 1488.77,1757.8 1489.4,1756.8C1490.16,1755.7 1490.88,1754.7 1491.6,1753.8C1492.25,1752.9 1492.90,1752.1 1493.5,1751.4C1494.24,1750.6 1494.94,1749.8 1495.6,1749.1C1496.39,1748.4 1497.14,1747.8 1497.9,1747.3C1498.59,1746.9 1499.30,1746.4 1500.0,1746.2C1500.88,1746.0 1501.76,1745.7 1502.6,1745.7C1503.04,1745.7 1503.45,1746.0 1503.9,1746.2C1504.17,1746.4 1504.50,1746.9 1504.8,1747.3C1505.16,1747.8 1505.51,1748.4 1505.9,1749.1C1506.17,1749.8 1506.49,1750.6 1506.8,1751.4C1507.11,1752.1 1507.41,1752.9 1507.7,1753.8C1508.04,1754.7 1508.37,1755.7 1508.7,1756.8C1509.01,1757.8 1509.31,1758.8 1509.6,1759.8C1509.92,1760.8 1510.21,1761.9 1510.5,1762.8C1511.66,1766.6 1512.81,1770.7 1514.0,1773.6C1515.47,1777.3 1516.98,1780.6 1518.5,1782.6C1520.00,1784.6 1521.51,1786.6 1523.0,1787.1C1525.28,1787.9 1527.54,1788.5 1529.8,1788.5C1532.83,1788.5 1535.84,1787.6 1538.9,1787.6C1541.88,1787.6 1544.90,1789.0 1547.9,1789.0C1550.94,1789.0 1553.96,1788.0 1557.0,1788.0C1561.50,1788.0 1566.03,1788.3 1570.6,1788.3C1575.09,1788.3 1579.62,1788.3 1584.1,1788.3C1588.67,1788.3 1593.20,1788.4 1597.7,1788.5C1598.48,1788.5 1599.24,1788.7 1600.0,1788.7C1603.11,1788.7 1606.23,1787.9 1609.3,1787.4C1612.45,1786.9 1615.56,1786.6 1618.7,1785.7C1620.23,1785.3 1621.79,1784.4 1623.3,1783.4C1624.90,1782.4 1626.46,1781.0 1628.0,1779.1C1628.95,1778.0 1629.88,1776.3 1630.8,1774.5C1631.60,1772.9 1632.37,1771.2 1633.2,1768.9C1633.78,1767.0 1634.40,1764.2 1635.0,1761.4C1635.64,1758.6 1636.27,1755.4 1636.9,1752.1C1637.42,1749.2 1637.95,1745.8 1638.5,1742.7C1639.04,1739.5 1639.60,1736.7 1640.2,1733.4C1640.86,1729.2 1641.56,1724.1 1642.3,1719.6C1642.73,1716.5 1643.20,1713.5 1643.7,1710.6C1644.15,1707.5 1644.63,1704.4 1645.1,1701.5C1645.63,1698.4 1646.15,1695.4 1646.7,1692.5C1647.14,1690.0 1647.61,1687.5 1648.1,1685.3C1648.58,1682.9 1649.08,1680.6 1649.6,1678.7C1650.13,1676.7 1650.67,1674.7 1651.2,1673.3C1651.71,1672.0 1652.22,1670.6 1652.7,1670.0C1653.36,1669.2 1654.00,1668.5 1654.6,1668.5C1655.20,1668.5 1655.77,1669.2 1656.3,1670.0C1656.79,1670.6 1657.24,1672.0 1657.7,1673.3C1658.18,1674.7 1658.66,1676.7 1659.1,1678.7C1659.60,1680.6 1660.05,1682.9 1660.5,1685.3C1660.92,1687.5 1661.34,1690.0 1661.8,1692.5C1662.22,1695.4 1662.68,1698.4 1663.2,1701.5C1663.58,1704.4 1664.02,1707.5 1664.4,1710.6C1664.87,1713.5 1665.28,1716.6 1665.7,1719.6C1666.34,1724.2 1666.98,1728.8 1667.6,1733.4C1668.05,1736.5 1668.48,1739.6 1668.9,1742.7C1669.36,1745.8 1669.79,1749.2 1670.2,1752.1C1670.73,1755.4 1671.22,1758.6 1671.7,1761.4C1672.31,1764.8 1672.90,1768.2 1673.5,1770.7C1674.21,1773.8 1674.93,1776.6 1675.6,1778.2C1676.58,1780.4 1677.51,1781.8 1678.4,1782.9C1679.69,1784.3 1680.94,1785.5 1682.2,1786.2C1683.74,1787.0 1685.29,1787.7 1686.9,1788.0C1688.41,1788.3 1689.96,1788.7 1691.5,1788.7C1693.70,1788.7 1695.88,1788.5 1698.1,1788.3C1700.55,1788.1 1703.04,1787.1 1705.5,1787.1C1707.71,1787.1 1709.89,1787.6 1712.1,1787.6C1714.71,1787.6 1717.36,1786.0 1720.0,1784.8C1721.51,1784.0 1723.01,1782.9 1724.5,1781.5C1726.02,1780.1 1727.53,1777.2 1729.0,1775.8C1730.55,1774.4 1732.06,1773.0 1733.6,1772.4C1735.83,1771.6 1738.09,1770.8 1740.4,1770.8C1741.87,1770.8 1743.38,1771.0 1744.9,1771.3C1746.39,1771.5 1747.90,1772.8 1749.4,1773.6C1750.92,1774.3 1752.43,1775.8 1753.9,1775.8C1755.45,1775.8 1756.96,1775.4 1758.5,1775.4C1759.98,1775.4 1761.49,1776.3 1763.0,1777.0C1765.26,1778.0 1767.53,1780.2 1769.8,1781.5C1772.05,1782.8 1774.32,1783.7 1776.6,1784.9C1778.85,1786.0 1781.11,1787.9 1783.4,1788.3C1787.90,1789.0 1792.43,1789.0 1797.0,1789.4C1804.50,1790.0 1812.05,1790.8 1819.6,1791.2C1827.14,1791.6 1834.69,1791.7 1842.2,1792.1C1845.26,1792.3 1848.27,1792.8 1851.3,1792.8C1855.82,1792.8 1860.35,1791.6 1864.9,1791.2C1870.91,1790.7 1876.95,1789.9 1883.0,1789.9C1888.27,1789.9 1893.55,1789.9 1898.8,1789.9C1899.22,1789.9 1899.61,1789.6 1900.0,1789.5C1900.81,1789.2 1901.61,1788.3 1902.4,1788.3C1909.27,1788.2 1916.12,1788.3 1923.0,1788.1C1924.18,1788.1 1925.39,1787.3 1926.6,1786.5C1927.81,1785.7 1929.02,1784.0 1930.2,1782.2C1931.24,1780.7 1932.25,1778.4 1933.3,1776.2C1934.06,1774.4 1934.86,1772.3 1935.7,1770.1C1936.38,1768.2 1937.08,1766.2 1937.8,1764.1C1938.47,1762.1 1939.15,1759.9 1939.8,1757.8C1940.35,1756.2 1940.87,1754.7 1941.4,1753.2C1941.92,1751.7 1942.45,1750.1 1943.0,1748.7C1943.56,1747.1 1944.13,1745.5 1944.7,1744.1C1945.22,1742.8 1945.74,1741.6 1946.3,1740.4C1946.81,1739.2 1947.37,1738.1 1947.9,1737.1C1948.53,1736.1 1949.12,1735.1 1949.7,1734.4C1950.28,1733.7 1950.84,1733.0 1951.4,1732.7C1952.10,1732.3 1952.81,1731.9 1953.5,1731.9C1954.14,1731.9 1954.78,1732.3 1955.4,1732.7C1955.93,1733.0 1956.44,1733.7 1957.0,1734.4C1957.50,1735.1 1958.04,1736.1 1958.6,1737.1C1959.09,1738.1 1959.60,1739.2 1960.1,1740.4C1960.57,1741.6 1961.04,1742.8 1961.5,1744.1C1962.04,1745.5 1962.56,1747.1 1963.1,1748.7C1963.57,1750.1 1964.05,1751.7 1964.5,1753.2C1965.01,1754.7 1965.48,1756.3 1965.9,1757.8C1966.94,1761.0 1967.93,1764.1 1968.9,1767.1C1969.53,1769.0 1970.13,1770.9 1970.7,1772.6C1971.44,1774.5 1972.15,1776.6 1972.9,1778.0C1973.76,1779.8 1974.67,1781.2 1975.6,1782.2C1976.78,1783.6 1977.99,1784.6 1979.2,1785.2C1980.61,1786.1 1982.02,1786.7 1983.4,1787.1C1984.84,1787.4 1986.26,1787.7 1987.7,1787.8C1990.69,1787.9 1993.71,1788.0 1996.7,1788.0C2001.17,1788.0 2005.60,1788.0 2010.0,1788.0C2011.25,1788.0 2012.45,1788.8 2013.7,1789.2C2015.78,1789.8 2017.90,1790.1 2020.0,1790.7C2020.63,1790.9 2021.26,1791.1 2021.9,1791.2C2024.14,1791.8 2026.41,1792.5 2028.7,1792.8C2031.69,1793.2 2034.71,1793.5 2037.7,1793.5C2043.76,1793.5 2049.80,1793.5 2055.8,1793.5C2063.39,1793.5 2070.93,1793.8 2078.5,1793.9C2086.03,1794.1 2093.57,1794.4 2101.1,1794.4C2108.67,1794.4 2116.21,1794.4 2123.8,1794.4C2126.78,1794.4 2129.80,1793.9 2132.8,1793.9C2137.34,1793.9 2141.87,1794.6 2146.4,1794.6C2153.94,1794.6 2161.49,1794.6 2169.0,1794.6C2176.58,1794.6 2184.13,1795.1 2191.7,1795.1C2199.22,1795.1 2206.77,1795.1 2214.3,1795.1C2220.35,1795.1 2226.39,1794.9 2232.4,1794.6C2235.45,1794.5 2238.47,1793.6 2241.5,1792.8C2243.75,1792.2 2246.01,1791.2 2248.3,1790.5C2250.54,1789.9 2252.81,1789.3 2255.1,1789.0C2256.58,1788.7 2258.09,1788.5 2259.6,1788.5C2261.11,1788.5 2262.62,1788.7 2264.1,1789.0C2266.39,1789.3 2268.65,1790.2 2270.9,1791.0C2273.18,1791.7 2275.44,1792.9 2277.7,1793.5C2280.73,1794.2 2283.75,1795.1 2286.8,1795.1C2292.80,1795.1 2298.84,1794.4 2304.9,1794.4C2312.42,1794.4 2319.97,1795.1 2327.5,1795.1C2338.08,1795.1 2348.65,1795.1 2359.2,1795.1C2361.47,1795.1 2363.74,1795.0 2366.0,1795.0" fill="none" stroke="#000" stroke-width="5" stroke-linejoin="round"/>
<path d="M162,27H2372V1809H162Z M176,41V1795H2359V41Z" fill="#000" fill-rule="evenodd"/>
<rect x="162.0" y="1802" width="14" height="35" fill="#000"/>
<rect x="848.2" y="1802" width="14" height="35" fill="#000"/>
<rect x="1534.5" y="1802" width="14" height="35" fill="#000"/>
<rect x="2220.8" y="1802" width="14" height="35" fill="#000"/>
<rect x="505.1" y="1802" width="14" height="18" fill="#000"/>
<rect x="1191.4" y="1802" width="14" height="18" fill="#000"/>
<rect x="1877.6" y="1802" width="14" height="18" fill="#000"/>
<g font-family="'Liberation Serif', 'Times New Roman', serif" font-weight="bold" fill="#000" style="font-kerning:none" font-kerning="none">
<text x="169.0" y="1946" font-size="111" text-anchor="middle">0</text>
<text x="855.2" y="1946" font-size="111" text-anchor="middle">5</text>
<text x="1541.5" y="1946" font-size="111" text-anchor="middle">10</text>
<text x="2227.8" y="1946" font-size="111" text-anchor="middle">15</text>
<text x="1266" y="2116" font-size="100" text-anchor="middle">Energy (KeV)</text>
<text transform="translate(91,914) rotate(-90)" font-size="99" text-anchor="middle">Counts (s)</text>
<g font-size="66">
<text x="226.0" y="1082.8" font-size="70">O</text>
<text x="278.9" y="1423.8">Sm</text>
<text x="283.1" y="1485.6">Eu</text>
<text x="283.6" y="1553.0">Zn</text>
<text x="464.2" y="1487.8">Bi</text>
<text x="623.3" y="1397.3">Sb</text>
<text x="716.6" y="1692.5">Sb</text>
<text x="883.0" y="1322.0">Sm</text>
<text x="963.5" y="1459.2">Eu</text>
<text x="996.2" y="1523.0">Sm</text>
<text x="1054.4" y="1596.5">Eu</text>
<text x="1153.3" y="1692.0">Eu</text>
<text x="1243.5" y="273.7" font-size="70">O</text>
<text x="1292.0" y="1671.2">Zn</text>
<text x="1425.6" y="1720.4">Zn</text>
<text x="1609.2" y="1642.9">Bi</text>
<text x="1702.0" y="1741.9">Bi</text>
<text x="1920.8" y="1695.0">Bi</text>
<text x="2181.0" y="1757.3">Bi</text>
</g>
<g stroke="#000" stroke-width="3.8" fill="none">
<line x1="1719.1" y1="46.0" x2="2350.9" y2="46.0"/>
<line x1="1719.1" y1="135.0" x2="2350.9" y2="135.0"/>
<line x1="1719.1" y1="223.8" x2="2350.9" y2="223.8"/>
<line x1="1719.1" y1="312.6" x2="2350.9" y2="312.6"/>
<line x1="1719.1" y1="401.6" x2="2350.9" y2="401.6"/>
<line x1="1719.1" y1="490.8" x2="2350.9" y2="490.8"/>
<line x1="1719.1" y1="579.9" x2="2350.9" y2="579.9"/>
<line x1="1719.1" y1="668.7" x2="2350.9" y2="668.7"/>
<line x1="1719.1" y1="757.6" x2="2350.9" y2="757.6"/>
<line x1="1721.0" y1="46.0" x2="1721.0" y2="757.6"/>
<line x1="2040.0" y1="46.0" x2="2040.0" y2="757.6"/>
<line x1="2349.0" y1="46.0" x2="2349.0" y2="757.6"/>
</g>
<g font-size="81" text-anchor="middle">
<text x="1883.6" y="126.0" font-size="80">Element</text>
<text x="2195" y="126.0">At%</text>
<text x="1883" y="209.7">O</text>
<text x="2195" y="209.7">72.59</text>
<text x="1883" y="299.0">Zn</text>
<text x="2195" y="299.0">4.09</text>
<text x="1883" y="387.8">Sb</text>
<text x="2195" y="387.8">7.71</text>
<text x="1883" y="477.2">Sm</text>
<text x="2195" y="477.2">7.73</text>
<text x="1883" y="565.4">Eu</text>
<text x="2195" y="565.4">3.82</text>
<text x="1883" y="654.8">Bi</text>
<text x="2195" y="654.8">4.02</text>
<text x="1883" y="743.6">Total:</text>
<text x="2195" y="743.6">100</text>
</g>
</g>
</svg>
</body></html>
